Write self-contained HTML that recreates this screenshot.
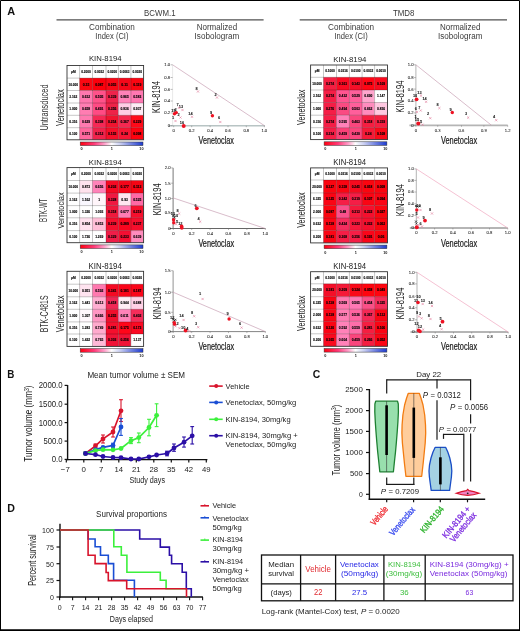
<!DOCTYPE html>
<html><head><meta charset="utf-8"><style>
html,body{margin:0;padding:0;background:#fff;}
body{width:520px;height:631px;overflow:hidden;}
svg{display:block;font-family:"Liberation Sans", sans-serif;will-change:transform;}
</style></head><body>
<svg width="520" height="631" viewBox="0 0 520 631">
<rect x="0" y="0" width="520" height="631" fill="#fff"/>
<path d="M0.5,0.5 H519.5 V630 H0.5 Z" stroke="#000" stroke-width="1" fill="none"/>
<line x1="0.00" y1="630.30" x2="520.00" y2="630.30" stroke="#000" stroke-width="1.4"/>
<text x="7.20" y="15.00" font-size="11.00" fill="#111" font-weight="bold" textLength="7.90" lengthAdjust="spacingAndGlyphs">A</text>
<text x="144.10" y="15.90" font-size="8.41" fill="#3a3a3a" textLength="31.40" lengthAdjust="spacingAndGlyphs">BCWM.1</text>
<text x="392.90" y="15.90" font-size="8.41" fill="#3a3a3a" textLength="21.50" lengthAdjust="spacingAndGlyphs">TMD8</text>
<line x1="56.50" y1="19.90" x2="263.60" y2="19.90" stroke="#505050" stroke-width="1.3"/>
<line x1="299.70" y1="19.90" x2="507.00" y2="19.90" stroke="#505050" stroke-width="1.3"/>
<text x="89.00" y="29.50" font-size="8.55" fill="#3a3a3a" textLength="45.80" lengthAdjust="spacingAndGlyphs">Combination</text>
<text x="95.35" y="39.00" font-size="8.50" fill="#3a3a3a" textLength="33.10" lengthAdjust="spacingAndGlyphs">Index (CI)</text>
<text x="196.70" y="29.50" font-size="8.55" fill="#3a3a3a" textLength="40.40" lengthAdjust="spacingAndGlyphs">Normalized</text>
<text x="194.60" y="39.00" font-size="8.50" fill="#3a3a3a" textLength="44.60" lengthAdjust="spacingAndGlyphs">Isobologram</text>
<text x="328.10" y="29.50" font-size="8.55" fill="#3a3a3a" textLength="45.90" lengthAdjust="spacingAndGlyphs">Combination</text>
<text x="334.40" y="39.00" font-size="8.50" fill="#3a3a3a" textLength="33.30" lengthAdjust="spacingAndGlyphs">Index (CI)</text>
<text x="440.10" y="29.50" font-size="8.55" fill="#3a3a3a" textLength="40.40" lengthAdjust="spacingAndGlyphs">Normalized</text>
<text x="438.10" y="39.00" font-size="8.50" fill="#3a3a3a" textLength="44.40" lengthAdjust="spacingAndGlyphs">Isobologram</text>
<text x="47.80" y="130.60" font-size="10.43" fill="#333" textLength="46.10" lengthAdjust="spacingAndGlyphs" transform="rotate(-90 47.80 130.60)">Untransduced</text>
<text x="47.50" y="221.90" font-size="10.29" fill="#333" textLength="23.30" lengthAdjust="spacingAndGlyphs" transform="rotate(-90 47.50 221.90)">BTK-WT</text>
<text x="47.80" y="332.20" font-size="10.58" fill="#333" textLength="36.70" lengthAdjust="spacingAndGlyphs" transform="rotate(-90 47.80 332.20)">BTK-C481S</text>
<defs><linearGradient id="cb" x1="0" x2="1" y1="0" y2="0"><stop offset="0" stop-color="#ff0010"/><stop offset="0.22" stop-color="#ff3a78"/><stop offset="0.38" stop-color="#ff9cc8"/><stop offset="0.5" stop-color="#ffffff"/><stop offset="0.64" stop-color="#c8cdf2"/><stop offset="0.82" stop-color="#6f80e0"/><stop offset="1" stop-color="#1c3ad0"/></linearGradient></defs>
<rect x="67.00" y="65.50" width="76.60" height="74.30" fill="#fff"/>
<rect x="79.60" y="78.10" width="12.90" height="12.40" fill="#fa0812"/>
<rect x="92.50" y="78.10" width="13.50" height="12.40" fill="#fc000c"/>
<rect x="106.00" y="78.10" width="12.40" height="12.40" fill="#f80816"/>
<rect x="118.40" y="78.10" width="12.50" height="12.40" fill="#f5081a"/>
<rect x="130.90" y="78.10" width="12.70" height="12.40" fill="#fc0612"/>
<rect x="79.60" y="90.50" width="12.90" height="12.50" fill="#ff78af"/>
<rect x="92.50" y="90.50" width="13.50" height="12.50" fill="#ff528a"/>
<rect x="106.00" y="90.50" width="12.40" height="12.50" fill="#ee234b"/>
<rect x="118.40" y="90.50" width="12.50" height="12.50" fill="#ff82b9"/>
<rect x="130.90" y="90.50" width="12.70" height="12.50" fill="#ff78b2"/>
<rect x="79.60" y="103.00" width="12.90" height="12.30" fill="#ff7db2"/>
<rect x="92.50" y="103.00" width="13.50" height="12.30" fill="#ff4b84"/>
<rect x="106.00" y="103.00" width="12.40" height="12.30" fill="#ee2348"/>
<rect x="118.40" y="103.00" width="12.50" height="12.30" fill="#ffcde6"/>
<rect x="130.90" y="103.00" width="12.70" height="12.30" fill="#ffebf5"/>
<rect x="79.60" y="115.30" width="12.90" height="12.40" fill="#ff7ab0"/>
<rect x="92.50" y="115.30" width="13.50" height="12.40" fill="#f52855"/>
<rect x="106.00" y="115.30" width="12.40" height="12.40" fill="#f0142f"/>
<rect x="118.40" y="115.30" width="12.50" height="12.40" fill="#f52850"/>
<rect x="130.90" y="115.30" width="12.70" height="12.40" fill="#ff0a19"/>
<rect x="79.60" y="127.70" width="12.90" height="12.10" fill="#ff689e"/>
<rect x="92.50" y="127.70" width="13.50" height="12.10" fill="#f0234b"/>
<rect x="106.00" y="127.70" width="12.40" height="12.10" fill="#f50f28"/>
<rect x="118.40" y="127.70" width="12.50" height="12.10" fill="#f51634"/>
<rect x="130.90" y="127.70" width="12.70" height="12.10" fill="#ff020f"/>
<line x1="79.60" y1="65.50" x2="79.60" y2="139.80" stroke="#000" stroke-width="0.8" stroke-opacity="0.28"/>
<line x1="92.50" y1="65.50" x2="92.50" y2="139.80" stroke="#000" stroke-width="0.8" stroke-opacity="0.28"/>
<line x1="106.00" y1="65.50" x2="106.00" y2="139.80" stroke="#000" stroke-width="0.8" stroke-opacity="0.28"/>
<line x1="118.40" y1="65.50" x2="118.40" y2="139.80" stroke="#000" stroke-width="0.8" stroke-opacity="0.28"/>
<line x1="130.90" y1="65.50" x2="130.90" y2="139.80" stroke="#000" stroke-width="0.8" stroke-opacity="0.28"/>
<line x1="67.00" y1="78.10" x2="143.60" y2="78.10" stroke="#000" stroke-width="0.8" stroke-opacity="0.28"/>
<line x1="67.00" y1="90.50" x2="143.60" y2="90.50" stroke="#000" stroke-width="0.8" stroke-opacity="0.28"/>
<line x1="67.00" y1="103.00" x2="143.60" y2="103.00" stroke="#000" stroke-width="0.8" stroke-opacity="0.28"/>
<line x1="67.00" y1="115.30" x2="143.60" y2="115.30" stroke="#000" stroke-width="0.8" stroke-opacity="0.28"/>
<line x1="67.00" y1="127.70" x2="143.60" y2="127.70" stroke="#000" stroke-width="0.8" stroke-opacity="0.28"/>
<rect x="67.00" y="65.50" width="76.60" height="74.30" fill="none" stroke="#333" stroke-width="0.9"/>
<text x="71.00" y="73.00" font-size="3.40" fill="#000" font-weight="bold" textLength="4.60" lengthAdjust="spacingAndGlyphs" stroke="#000" stroke-width="0.12">µM</text>
<text x="81.25" y="73.00" font-size="3.40" fill="#000" font-weight="bold" textLength="9.60" lengthAdjust="spacingAndGlyphs" stroke="#000" stroke-width="0.12">0.2000</text>
<text x="94.45" y="73.00" font-size="3.40" fill="#000" font-weight="bold" textLength="9.60" lengthAdjust="spacingAndGlyphs" stroke="#000" stroke-width="0.12">0.0032</text>
<text x="107.40" y="73.00" font-size="3.40" fill="#000" font-weight="bold" textLength="9.60" lengthAdjust="spacingAndGlyphs" stroke="#000" stroke-width="0.12">0.0200</text>
<text x="119.85" y="73.00" font-size="3.40" fill="#000" font-weight="bold" textLength="9.60" lengthAdjust="spacingAndGlyphs" stroke="#000" stroke-width="0.12">0.0063</text>
<text x="132.45" y="73.00" font-size="3.40" fill="#000" font-weight="bold" textLength="9.60" lengthAdjust="spacingAndGlyphs" stroke="#000" stroke-width="0.12">0.0020</text>
<text x="68.55" y="85.50" font-size="3.40" fill="#000" font-weight="bold" textLength="9.50" lengthAdjust="spacingAndGlyphs" stroke="#000" stroke-width="0.12">10.000</text>
<text x="82.75" y="85.50" font-size="3.40" fill="#000" font-weight="bold" textLength="6.60" lengthAdjust="spacingAndGlyphs" stroke="#000" stroke-width="0.12">0.15</text>
<text x="95.15" y="85.50" font-size="3.40" fill="#000" font-weight="bold" textLength="8.20" lengthAdjust="spacingAndGlyphs" stroke="#000" stroke-width="0.12">0.087</text>
<text x="108.10" y="85.50" font-size="3.40" fill="#000" font-weight="bold" textLength="8.20" lengthAdjust="spacingAndGlyphs" stroke="#000" stroke-width="0.12">0.055</text>
<text x="121.35" y="85.50" font-size="3.40" fill="#000" font-weight="bold" textLength="6.60" lengthAdjust="spacingAndGlyphs" stroke="#000" stroke-width="0.12">0.11</text>
<text x="133.15" y="85.50" font-size="3.40" fill="#000" font-weight="bold" textLength="8.20" lengthAdjust="spacingAndGlyphs" stroke="#000" stroke-width="0.12">0.119</text>
<text x="69.33" y="97.95" font-size="3.40" fill="#000" font-weight="bold" textLength="7.95" lengthAdjust="spacingAndGlyphs" stroke="#000" stroke-width="0.12">3.162</text>
<text x="81.95" y="97.95" font-size="3.40" fill="#000" font-weight="bold" textLength="8.20" lengthAdjust="spacingAndGlyphs" stroke="#000" stroke-width="0.12">0.612</text>
<text x="95.15" y="97.95" font-size="3.40" fill="#000" font-weight="bold" textLength="8.20" lengthAdjust="spacingAndGlyphs" stroke="#000" stroke-width="0.12">0.505</text>
<text x="108.10" y="97.95" font-size="3.40" fill="#000" font-weight="bold" textLength="8.20" lengthAdjust="spacingAndGlyphs" stroke="#000" stroke-width="0.12">0.339</text>
<text x="120.55" y="97.95" font-size="3.40" fill="#000" font-weight="bold" textLength="8.20" lengthAdjust="spacingAndGlyphs" stroke="#000" stroke-width="0.12">0.865</text>
<text x="133.15" y="97.95" font-size="3.40" fill="#000" font-weight="bold" textLength="8.20" lengthAdjust="spacingAndGlyphs" stroke="#000" stroke-width="0.12">0.583</text>
<text x="69.33" y="110.35" font-size="3.40" fill="#000" font-weight="bold" textLength="7.95" lengthAdjust="spacingAndGlyphs" stroke="#000" stroke-width="0.12">1.000</text>
<text x="81.95" y="110.35" font-size="3.40" fill="#000" font-weight="bold" textLength="8.20" lengthAdjust="spacingAndGlyphs" stroke="#000" stroke-width="0.12">0.658</text>
<text x="95.15" y="110.35" font-size="3.40" fill="#000" font-weight="bold" textLength="8.20" lengthAdjust="spacingAndGlyphs" stroke="#000" stroke-width="0.12">0.491</text>
<text x="108.10" y="110.35" font-size="3.40" fill="#000" font-weight="bold" textLength="8.20" lengthAdjust="spacingAndGlyphs" stroke="#000" stroke-width="0.12">0.356</text>
<text x="120.55" y="110.35" font-size="3.40" fill="#000" font-weight="bold" textLength="8.20" lengthAdjust="spacingAndGlyphs" stroke="#000" stroke-width="0.12">0.836</text>
<text x="133.15" y="110.35" font-size="3.40" fill="#000" font-weight="bold" textLength="8.20" lengthAdjust="spacingAndGlyphs" stroke="#000" stroke-width="0.12">0.937</text>
<text x="69.33" y="122.70" font-size="3.40" fill="#000" font-weight="bold" textLength="7.95" lengthAdjust="spacingAndGlyphs" stroke="#000" stroke-width="0.12">0.316</text>
<text x="81.95" y="122.70" font-size="3.40" fill="#000" font-weight="bold" textLength="8.20" lengthAdjust="spacingAndGlyphs" stroke="#000" stroke-width="0.12">0.629</text>
<text x="95.15" y="122.70" font-size="3.40" fill="#000" font-weight="bold" textLength="8.20" lengthAdjust="spacingAndGlyphs" stroke="#000" stroke-width="0.12">0.398</text>
<text x="108.10" y="122.70" font-size="3.40" fill="#000" font-weight="bold" textLength="8.20" lengthAdjust="spacingAndGlyphs" stroke="#000" stroke-width="0.12">0.254</text>
<text x="120.55" y="122.70" font-size="3.40" fill="#000" font-weight="bold" textLength="8.20" lengthAdjust="spacingAndGlyphs" stroke="#000" stroke-width="0.12">0.367</text>
<text x="133.15" y="122.70" font-size="3.40" fill="#000" font-weight="bold" textLength="8.20" lengthAdjust="spacingAndGlyphs" stroke="#000" stroke-width="0.12">0.229</text>
<text x="69.33" y="134.95" font-size="3.40" fill="#000" font-weight="bold" textLength="7.95" lengthAdjust="spacingAndGlyphs" stroke="#000" stroke-width="0.12">0.100</text>
<text x="81.95" y="134.95" font-size="3.40" fill="#000" font-weight="bold" textLength="8.20" lengthAdjust="spacingAndGlyphs" stroke="#000" stroke-width="0.12">0.571</text>
<text x="95.15" y="134.95" font-size="3.40" fill="#000" font-weight="bold" textLength="8.20" lengthAdjust="spacingAndGlyphs" stroke="#000" stroke-width="0.12">0.312</text>
<text x="108.10" y="134.95" font-size="3.40" fill="#000" font-weight="bold" textLength="8.20" lengthAdjust="spacingAndGlyphs" stroke="#000" stroke-width="0.12">0.155</text>
<text x="121.35" y="134.95" font-size="3.40" fill="#000" font-weight="bold" textLength="6.60" lengthAdjust="spacingAndGlyphs" stroke="#000" stroke-width="0.12">0.24</text>
<text x="133.15" y="134.95" font-size="3.40" fill="#000" font-weight="bold" textLength="8.20" lengthAdjust="spacingAndGlyphs" stroke="#000" stroke-width="0.12">0.098</text>
<rect x="80.20" y="142.00" width="62.80" height="3.60" fill="url(#cb)" stroke="#333" stroke-width="0.5"/>
<text x="81.46" y="150.40" font-size="3.80" fill="#111" text-anchor="middle" font-weight="bold">0</text>
<text x="111.91" y="150.40" font-size="3.80" fill="#111" text-anchor="middle" font-weight="bold">1</text>
<text x="141.43" y="150.40" font-size="3.80" fill="#111" text-anchor="middle" font-weight="bold">10</text>
<text x="88.90" y="61.40" font-size="7.68" fill="#222" textLength="32.70" lengthAdjust="spacingAndGlyphs">KIN-8194</text>
<text x="64.20" y="125.90" font-size="11.30" fill="#222" textLength="36.70" lengthAdjust="spacingAndGlyphs" transform="rotate(-90 64.20 125.90)">Venetoclax</text>
<rect x="67.00" y="167.60" width="76.60" height="75.10" fill="#fff"/>
<rect x="79.60" y="180.50" width="12.90" height="12.60" fill="#ffe2ee"/>
<rect x="92.50" y="180.50" width="13.50" height="12.60" fill="#ff82b9"/>
<rect x="106.00" y="180.50" width="12.40" height="12.60" fill="#f50a23"/>
<rect x="118.40" y="180.50" width="12.50" height="12.60" fill="#f50519"/>
<rect x="130.90" y="180.50" width="12.70" height="12.60" fill="#f50514"/>
<rect x="79.60" y="193.10" width="12.90" height="12.50" fill="#faf8ff"/>
<rect x="92.50" y="193.10" width="13.50" height="12.50" fill="#fff5fa"/>
<rect x="106.00" y="193.10" width="12.40" height="12.50" fill="#f01941"/>
<rect x="118.40" y="193.10" width="12.50" height="12.50" fill="#ffe6f0"/>
<rect x="130.90" y="193.10" width="12.70" height="12.50" fill="#ff69a5"/>
<rect x="79.60" y="205.60" width="12.90" height="12.20" fill="#ffffff"/>
<rect x="92.50" y="205.60" width="13.50" height="12.20" fill="#ffffff"/>
<rect x="106.00" y="205.60" width="12.40" height="12.20" fill="#f0193c"/>
<rect x="118.40" y="205.60" width="12.50" height="12.20" fill="#ff7db4"/>
<rect x="130.90" y="205.60" width="12.70" height="12.20" fill="#f50f2d"/>
<rect x="79.60" y="217.80" width="12.90" height="12.80" fill="#ffe1ee"/>
<rect x="92.50" y="217.80" width="13.50" height="12.80" fill="#ffbed7"/>
<rect x="106.00" y="217.80" width="12.40" height="12.80" fill="#f50f2d"/>
<rect x="118.40" y="217.80" width="12.50" height="12.80" fill="#fa051e"/>
<rect x="130.90" y="217.80" width="12.70" height="12.80" fill="#f50f2d"/>
<rect x="79.60" y="230.60" width="12.90" height="12.10" fill="#ffffff"/>
<rect x="92.50" y="230.60" width="13.50" height="12.10" fill="#ffffff"/>
<rect x="106.00" y="230.60" width="12.40" height="12.10" fill="#f01e48"/>
<rect x="118.40" y="230.60" width="12.50" height="12.10" fill="#f50f32"/>
<rect x="130.90" y="230.60" width="12.70" height="12.10" fill="#ff8cbe"/>
<line x1="79.60" y1="167.60" x2="79.60" y2="242.70" stroke="#000" stroke-width="0.8" stroke-opacity="0.28"/>
<line x1="92.50" y1="167.60" x2="92.50" y2="242.70" stroke="#000" stroke-width="0.8" stroke-opacity="0.28"/>
<line x1="106.00" y1="167.60" x2="106.00" y2="242.70" stroke="#000" stroke-width="0.8" stroke-opacity="0.28"/>
<line x1="118.40" y1="167.60" x2="118.40" y2="242.70" stroke="#000" stroke-width="0.8" stroke-opacity="0.28"/>
<line x1="130.90" y1="167.60" x2="130.90" y2="242.70" stroke="#000" stroke-width="0.8" stroke-opacity="0.28"/>
<line x1="67.00" y1="180.50" x2="143.60" y2="180.50" stroke="#000" stroke-width="0.8" stroke-opacity="0.28"/>
<line x1="67.00" y1="193.10" x2="143.60" y2="193.10" stroke="#000" stroke-width="0.8" stroke-opacity="0.28"/>
<line x1="67.00" y1="205.60" x2="143.60" y2="205.60" stroke="#000" stroke-width="0.8" stroke-opacity="0.28"/>
<line x1="67.00" y1="217.80" x2="143.60" y2="217.80" stroke="#000" stroke-width="0.8" stroke-opacity="0.28"/>
<line x1="67.00" y1="230.60" x2="143.60" y2="230.60" stroke="#000" stroke-width="0.8" stroke-opacity="0.28"/>
<rect x="67.00" y="167.60" width="76.60" height="75.10" fill="none" stroke="#333" stroke-width="0.9"/>
<text x="71.00" y="175.25" font-size="3.40" fill="#000" font-weight="bold" textLength="4.60" lengthAdjust="spacingAndGlyphs" stroke="#000" stroke-width="0.12">µM</text>
<text x="81.25" y="175.25" font-size="3.40" fill="#000" font-weight="bold" textLength="9.60" lengthAdjust="spacingAndGlyphs" stroke="#000" stroke-width="0.12">0.2000</text>
<text x="94.45" y="175.25" font-size="3.40" fill="#000" font-weight="bold" textLength="9.60" lengthAdjust="spacingAndGlyphs" stroke="#000" stroke-width="0.12">0.0032</text>
<text x="107.40" y="175.25" font-size="3.40" fill="#000" font-weight="bold" textLength="9.60" lengthAdjust="spacingAndGlyphs" stroke="#000" stroke-width="0.12">0.0200</text>
<text x="119.85" y="175.25" font-size="3.40" fill="#000" font-weight="bold" textLength="9.60" lengthAdjust="spacingAndGlyphs" stroke="#000" stroke-width="0.12">0.0063</text>
<text x="132.45" y="175.25" font-size="3.40" fill="#000" font-weight="bold" textLength="9.60" lengthAdjust="spacingAndGlyphs" stroke="#000" stroke-width="0.12">0.0020</text>
<text x="68.55" y="188.00" font-size="3.40" fill="#000" font-weight="bold" textLength="9.50" lengthAdjust="spacingAndGlyphs" stroke="#000" stroke-width="0.12">10.000</text>
<text x="81.95" y="188.00" font-size="3.40" fill="#000" font-weight="bold" textLength="8.20" lengthAdjust="spacingAndGlyphs" stroke="#000" stroke-width="0.12">0.873</text>
<text x="95.15" y="188.00" font-size="3.40" fill="#000" font-weight="bold" textLength="8.20" lengthAdjust="spacingAndGlyphs" stroke="#000" stroke-width="0.12">0.656</text>
<text x="108.10" y="188.00" font-size="3.40" fill="#000" font-weight="bold" textLength="8.20" lengthAdjust="spacingAndGlyphs" stroke="#000" stroke-width="0.12">0.202</text>
<text x="120.55" y="188.00" font-size="3.40" fill="#000" font-weight="bold" textLength="8.20" lengthAdjust="spacingAndGlyphs" stroke="#000" stroke-width="0.12">0.177</text>
<text x="133.15" y="188.00" font-size="3.40" fill="#000" font-weight="bold" textLength="8.20" lengthAdjust="spacingAndGlyphs" stroke="#000" stroke-width="0.12">0.113</text>
<text x="69.33" y="200.55" font-size="3.40" fill="#000" font-weight="bold" textLength="7.95" lengthAdjust="spacingAndGlyphs" stroke="#000" stroke-width="0.12">3.162</text>
<text x="81.95" y="200.55" font-size="3.40" fill="#000" font-weight="bold" textLength="8.20" lengthAdjust="spacingAndGlyphs" stroke="#000" stroke-width="0.12">1.162</text>
<text x="98.35" y="200.55" font-size="3.40" fill="#000" font-weight="bold" textLength="1.80" lengthAdjust="spacingAndGlyphs" stroke="#000" stroke-width="0.12">1</text>
<text x="108.10" y="200.55" font-size="3.40" fill="#000" font-weight="bold" textLength="8.20" lengthAdjust="spacingAndGlyphs" stroke="#000" stroke-width="0.12">0.328</text>
<text x="121.35" y="200.55" font-size="3.40" fill="#000" font-weight="bold" textLength="6.60" lengthAdjust="spacingAndGlyphs" stroke="#000" stroke-width="0.12">0.93</text>
<text x="133.15" y="200.55" font-size="3.40" fill="#000" font-weight="bold" textLength="8.20" lengthAdjust="spacingAndGlyphs" stroke="#000" stroke-width="0.12">0.525</text>
<text x="69.33" y="212.90" font-size="3.40" fill="#000" font-weight="bold" textLength="7.95" lengthAdjust="spacingAndGlyphs" stroke="#000" stroke-width="0.12">1.000</text>
<text x="81.95" y="212.90" font-size="3.40" fill="#000" font-weight="bold" textLength="8.20" lengthAdjust="spacingAndGlyphs" stroke="#000" stroke-width="0.12">1.326</text>
<text x="95.15" y="212.90" font-size="3.40" fill="#000" font-weight="bold" textLength="8.20" lengthAdjust="spacingAndGlyphs" stroke="#000" stroke-width="0.12">1.093</text>
<text x="108.10" y="212.90" font-size="3.40" fill="#000" font-weight="bold" textLength="8.20" lengthAdjust="spacingAndGlyphs" stroke="#000" stroke-width="0.12">0.318</text>
<text x="120.55" y="212.90" font-size="3.40" fill="#000" font-weight="bold" textLength="8.20" lengthAdjust="spacingAndGlyphs" stroke="#000" stroke-width="0.12">0.677</text>
<text x="133.15" y="212.90" font-size="3.40" fill="#000" font-weight="bold" textLength="8.20" lengthAdjust="spacingAndGlyphs" stroke="#000" stroke-width="0.12">0.219</text>
<text x="69.33" y="225.40" font-size="3.40" fill="#000" font-weight="bold" textLength="7.95" lengthAdjust="spacingAndGlyphs" stroke="#000" stroke-width="0.12">0.316</text>
<text x="81.95" y="225.40" font-size="3.40" fill="#000" font-weight="bold" textLength="8.20" lengthAdjust="spacingAndGlyphs" stroke="#000" stroke-width="0.12">0.854</text>
<text x="95.15" y="225.40" font-size="3.40" fill="#000" font-weight="bold" textLength="8.20" lengthAdjust="spacingAndGlyphs" stroke="#000" stroke-width="0.12">0.853</text>
<text x="108.10" y="225.40" font-size="3.40" fill="#000" font-weight="bold" textLength="8.20" lengthAdjust="spacingAndGlyphs" stroke="#000" stroke-width="0.12">0.239</text>
<text x="120.55" y="225.40" font-size="3.40" fill="#000" font-weight="bold" textLength="8.20" lengthAdjust="spacingAndGlyphs" stroke="#000" stroke-width="0.12">0.289</text>
<text x="133.15" y="225.40" font-size="3.40" fill="#000" font-weight="bold" textLength="8.20" lengthAdjust="spacingAndGlyphs" stroke="#000" stroke-width="0.12">0.237</text>
<text x="69.33" y="237.85" font-size="3.40" fill="#000" font-weight="bold" textLength="7.95" lengthAdjust="spacingAndGlyphs" stroke="#000" stroke-width="0.12">0.100</text>
<text x="81.95" y="237.85" font-size="3.40" fill="#000" font-weight="bold" textLength="8.20" lengthAdjust="spacingAndGlyphs" stroke="#000" stroke-width="0.12">1.726</text>
<text x="95.15" y="237.85" font-size="3.40" fill="#000" font-weight="bold" textLength="8.20" lengthAdjust="spacingAndGlyphs" stroke="#000" stroke-width="0.12">1.269</text>
<text x="108.10" y="237.85" font-size="3.40" fill="#000" font-weight="bold" textLength="8.20" lengthAdjust="spacingAndGlyphs" stroke="#000" stroke-width="0.12">0.329</text>
<text x="120.55" y="237.85" font-size="3.40" fill="#000" font-weight="bold" textLength="8.20" lengthAdjust="spacingAndGlyphs" stroke="#000" stroke-width="0.12">0.233</text>
<text x="133.15" y="237.85" font-size="3.40" fill="#000" font-weight="bold" textLength="8.20" lengthAdjust="spacingAndGlyphs" stroke="#000" stroke-width="0.12">0.639</text>
<rect x="80.20" y="244.90" width="62.80" height="3.60" fill="url(#cb)" stroke="#333" stroke-width="0.5"/>
<text x="81.46" y="253.30" font-size="3.80" fill="#111" text-anchor="middle" font-weight="bold">0</text>
<text x="111.91" y="253.30" font-size="3.80" fill="#111" text-anchor="middle" font-weight="bold">1</text>
<text x="141.43" y="253.30" font-size="3.80" fill="#111" text-anchor="middle" font-weight="bold">10</text>
<text x="88.80" y="164.70" font-size="7.97" fill="#222" textLength="33.00" lengthAdjust="spacingAndGlyphs">KIN-8194</text>
<text x="63.60" y="228.60" font-size="9.71" fill="#222" textLength="36.20" lengthAdjust="spacingAndGlyphs" transform="rotate(-90 63.60 228.60)">Venetoclax</text>
<rect x="67.00" y="271.30" width="76.60" height="75.10" fill="#fff"/>
<rect x="79.60" y="284.20" width="12.90" height="12.60" fill="#ffe4f0"/>
<rect x="92.50" y="284.20" width="13.50" height="12.60" fill="#ff78af"/>
<rect x="106.00" y="284.20" width="12.40" height="12.60" fill="#f50a23"/>
<rect x="118.40" y="284.20" width="12.50" height="12.60" fill="#fa0519"/>
<rect x="130.90" y="284.20" width="12.70" height="12.60" fill="#fa0519"/>
<rect x="79.60" y="296.80" width="12.90" height="12.50" fill="#ffffff"/>
<rect x="92.50" y="296.80" width="13.50" height="12.50" fill="#ffafd2"/>
<rect x="106.00" y="296.80" width="12.40" height="12.50" fill="#f02855"/>
<rect x="118.40" y="296.80" width="12.50" height="12.50" fill="#ffeef5"/>
<rect x="130.90" y="296.80" width="12.70" height="12.50" fill="#ffd2e6"/>
<rect x="79.60" y="309.30" width="12.90" height="12.60" fill="#fff8fc"/>
<rect x="92.50" y="309.30" width="13.50" height="12.60" fill="#ff96c3"/>
<rect x="106.00" y="309.30" width="12.40" height="12.60" fill="#f00f2d"/>
<rect x="118.40" y="309.30" width="12.50" height="12.60" fill="#ff82b9"/>
<rect x="130.90" y="309.30" width="12.70" height="12.60" fill="#f52d5a"/>
<rect x="79.60" y="321.90" width="12.90" height="12.10" fill="#ffffff"/>
<rect x="92.50" y="321.90" width="13.50" height="12.10" fill="#ffaacd"/>
<rect x="106.00" y="321.90" width="12.40" height="12.10" fill="#f50f2d"/>
<rect x="118.40" y="321.90" width="12.50" height="12.10" fill="#ff0519"/>
<rect x="130.90" y="321.90" width="12.70" height="12.10" fill="#fa0a23"/>
<rect x="79.60" y="334.00" width="12.90" height="12.40" fill="#ffffff"/>
<rect x="92.50" y="334.00" width="13.50" height="12.40" fill="#ffb9d7"/>
<rect x="106.00" y="334.00" width="12.40" height="12.40" fill="#f01437"/>
<rect x="118.40" y="334.00" width="12.50" height="12.40" fill="#f01437"/>
<rect x="130.90" y="334.00" width="12.70" height="12.40" fill="#ffffff"/>
<line x1="79.60" y1="271.30" x2="79.60" y2="346.40" stroke="#000" stroke-width="0.8" stroke-opacity="0.28"/>
<line x1="92.50" y1="271.30" x2="92.50" y2="346.40" stroke="#000" stroke-width="0.8" stroke-opacity="0.28"/>
<line x1="106.00" y1="271.30" x2="106.00" y2="346.40" stroke="#000" stroke-width="0.8" stroke-opacity="0.28"/>
<line x1="118.40" y1="271.30" x2="118.40" y2="346.40" stroke="#000" stroke-width="0.8" stroke-opacity="0.28"/>
<line x1="130.90" y1="271.30" x2="130.90" y2="346.40" stroke="#000" stroke-width="0.8" stroke-opacity="0.28"/>
<line x1="67.00" y1="284.20" x2="143.60" y2="284.20" stroke="#000" stroke-width="0.8" stroke-opacity="0.28"/>
<line x1="67.00" y1="296.80" x2="143.60" y2="296.80" stroke="#000" stroke-width="0.8" stroke-opacity="0.28"/>
<line x1="67.00" y1="309.30" x2="143.60" y2="309.30" stroke="#000" stroke-width="0.8" stroke-opacity="0.28"/>
<line x1="67.00" y1="321.90" x2="143.60" y2="321.90" stroke="#000" stroke-width="0.8" stroke-opacity="0.28"/>
<line x1="67.00" y1="334.00" x2="143.60" y2="334.00" stroke="#000" stroke-width="0.8" stroke-opacity="0.28"/>
<rect x="67.00" y="271.30" width="76.60" height="75.10" fill="none" stroke="#333" stroke-width="0.9"/>
<text x="71.00" y="278.95" font-size="3.40" fill="#000" font-weight="bold" textLength="4.60" lengthAdjust="spacingAndGlyphs" stroke="#000" stroke-width="0.12">µM</text>
<text x="81.25" y="278.95" font-size="3.40" fill="#000" font-weight="bold" textLength="9.60" lengthAdjust="spacingAndGlyphs" stroke="#000" stroke-width="0.12">0.2000</text>
<text x="94.45" y="278.95" font-size="3.40" fill="#000" font-weight="bold" textLength="9.60" lengthAdjust="spacingAndGlyphs" stroke="#000" stroke-width="0.12">0.0032</text>
<text x="107.40" y="278.95" font-size="3.40" fill="#000" font-weight="bold" textLength="9.60" lengthAdjust="spacingAndGlyphs" stroke="#000" stroke-width="0.12">0.0200</text>
<text x="119.85" y="278.95" font-size="3.40" fill="#000" font-weight="bold" textLength="9.60" lengthAdjust="spacingAndGlyphs" stroke="#000" stroke-width="0.12">0.0063</text>
<text x="132.45" y="278.95" font-size="3.40" fill="#000" font-weight="bold" textLength="9.60" lengthAdjust="spacingAndGlyphs" stroke="#000" stroke-width="0.12">0.0020</text>
<text x="68.55" y="291.70" font-size="3.40" fill="#000" font-weight="bold" textLength="9.50" lengthAdjust="spacingAndGlyphs" stroke="#000" stroke-width="0.12">10.000</text>
<text x="81.95" y="291.70" font-size="3.40" fill="#000" font-weight="bold" textLength="8.20" lengthAdjust="spacingAndGlyphs" stroke="#000" stroke-width="0.12">0.951</text>
<text x="95.15" y="291.70" font-size="3.40" fill="#000" font-weight="bold" textLength="8.20" lengthAdjust="spacingAndGlyphs" stroke="#000" stroke-width="0.12">0.592</text>
<text x="108.10" y="291.70" font-size="3.40" fill="#000" font-weight="bold" textLength="8.20" lengthAdjust="spacingAndGlyphs" stroke="#000" stroke-width="0.12">0.341</text>
<text x="120.55" y="291.70" font-size="3.40" fill="#000" font-weight="bold" textLength="8.20" lengthAdjust="spacingAndGlyphs" stroke="#000" stroke-width="0.12">0.181</text>
<text x="133.15" y="291.70" font-size="3.40" fill="#000" font-weight="bold" textLength="8.20" lengthAdjust="spacingAndGlyphs" stroke="#000" stroke-width="0.12">0.187</text>
<text x="69.33" y="304.25" font-size="3.40" fill="#000" font-weight="bold" textLength="7.95" lengthAdjust="spacingAndGlyphs" stroke="#000" stroke-width="0.12">3.162</text>
<text x="81.95" y="304.25" font-size="3.40" fill="#000" font-weight="bold" textLength="8.20" lengthAdjust="spacingAndGlyphs" stroke="#000" stroke-width="0.12">1.441</text>
<text x="95.15" y="304.25" font-size="3.40" fill="#000" font-weight="bold" textLength="8.20" lengthAdjust="spacingAndGlyphs" stroke="#000" stroke-width="0.12">0.613</text>
<text x="108.10" y="304.25" font-size="3.40" fill="#000" font-weight="bold" textLength="8.20" lengthAdjust="spacingAndGlyphs" stroke="#000" stroke-width="0.12">0.418</text>
<text x="120.55" y="304.25" font-size="3.40" fill="#000" font-weight="bold" textLength="8.20" lengthAdjust="spacingAndGlyphs" stroke="#000" stroke-width="0.12">0.944</text>
<text x="133.15" y="304.25" font-size="3.40" fill="#000" font-weight="bold" textLength="8.20" lengthAdjust="spacingAndGlyphs" stroke="#000" stroke-width="0.12">0.688</text>
<text x="69.33" y="316.80" font-size="3.40" fill="#000" font-weight="bold" textLength="7.95" lengthAdjust="spacingAndGlyphs" stroke="#000" stroke-width="0.12">1.000</text>
<text x="81.95" y="316.80" font-size="3.40" fill="#000" font-weight="bold" textLength="8.20" lengthAdjust="spacingAndGlyphs" stroke="#000" stroke-width="0.12">1.307</text>
<text x="95.15" y="316.80" font-size="3.40" fill="#000" font-weight="bold" textLength="8.20" lengthAdjust="spacingAndGlyphs" stroke="#000" stroke-width="0.12">0.666</text>
<text x="108.10" y="316.80" font-size="3.40" fill="#000" font-weight="bold" textLength="8.20" lengthAdjust="spacingAndGlyphs" stroke="#000" stroke-width="0.12">0.255</text>
<text x="120.55" y="316.80" font-size="3.40" fill="#000" font-weight="bold" textLength="8.20" lengthAdjust="spacingAndGlyphs" stroke="#000" stroke-width="0.12">0.611</text>
<text x="133.15" y="316.80" font-size="3.40" fill="#000" font-weight="bold" textLength="8.20" lengthAdjust="spacingAndGlyphs" stroke="#000" stroke-width="0.12">0.402</text>
<text x="69.33" y="329.15" font-size="3.40" fill="#000" font-weight="bold" textLength="7.95" lengthAdjust="spacingAndGlyphs" stroke="#000" stroke-width="0.12">0.316</text>
<text x="81.95" y="329.15" font-size="3.40" fill="#000" font-weight="bold" textLength="8.20" lengthAdjust="spacingAndGlyphs" stroke="#000" stroke-width="0.12">1.283</text>
<text x="95.15" y="329.15" font-size="3.40" fill="#000" font-weight="bold" textLength="8.20" lengthAdjust="spacingAndGlyphs" stroke="#000" stroke-width="0.12">0.749</text>
<text x="108.10" y="329.15" font-size="3.40" fill="#000" font-weight="bold" textLength="8.20" lengthAdjust="spacingAndGlyphs" stroke="#000" stroke-width="0.12">0.281</text>
<text x="120.55" y="329.15" font-size="3.40" fill="#000" font-weight="bold" textLength="8.20" lengthAdjust="spacingAndGlyphs" stroke="#000" stroke-width="0.12">0.175</text>
<text x="133.15" y="329.15" font-size="3.40" fill="#000" font-weight="bold" textLength="8.20" lengthAdjust="spacingAndGlyphs" stroke="#000" stroke-width="0.12">0.173</text>
<text x="69.33" y="341.40" font-size="3.40" fill="#000" font-weight="bold" textLength="7.95" lengthAdjust="spacingAndGlyphs" stroke="#000" stroke-width="0.12">0.100</text>
<text x="81.95" y="341.40" font-size="3.40" fill="#000" font-weight="bold" textLength="8.20" lengthAdjust="spacingAndGlyphs" stroke="#000" stroke-width="0.12">1.422</text>
<text x="95.15" y="341.40" font-size="3.40" fill="#000" font-weight="bold" textLength="8.20" lengthAdjust="spacingAndGlyphs" stroke="#000" stroke-width="0.12">0.765</text>
<text x="108.10" y="341.40" font-size="3.40" fill="#000" font-weight="bold" textLength="8.20" lengthAdjust="spacingAndGlyphs" stroke="#000" stroke-width="0.12">0.303</text>
<text x="120.55" y="341.40" font-size="3.40" fill="#000" font-weight="bold" textLength="8.20" lengthAdjust="spacingAndGlyphs" stroke="#000" stroke-width="0.12">0.256</text>
<text x="133.15" y="341.40" font-size="3.40" fill="#000" font-weight="bold" textLength="8.20" lengthAdjust="spacingAndGlyphs" stroke="#000" stroke-width="0.12">1.137</text>
<rect x="80.20" y="348.60" width="62.80" height="3.60" fill="url(#cb)" stroke="#333" stroke-width="0.5"/>
<text x="81.46" y="357.00" font-size="3.80" fill="#111" text-anchor="middle" font-weight="bold">0</text>
<text x="111.91" y="357.00" font-size="3.80" fill="#111" text-anchor="middle" font-weight="bold">1</text>
<text x="141.43" y="357.00" font-size="3.80" fill="#111" text-anchor="middle" font-weight="bold">10</text>
<text x="88.60" y="268.90" font-size="8.26" fill="#222" textLength="33.20" lengthAdjust="spacingAndGlyphs">KIN-8194</text>
<text x="64.10" y="332.20" font-size="10.87" fill="#222" textLength="36.70" lengthAdjust="spacingAndGlyphs" transform="rotate(-90 64.10 332.20)">Venetoclax</text>
<rect x="310.60" y="65.00" width="76.90" height="74.60" fill="#fff"/>
<rect x="323.50" y="77.30" width="13.00" height="12.70" fill="#f51e41"/>
<rect x="336.50" y="77.30" width="12.90" height="12.70" fill="#fa0a23"/>
<rect x="349.40" y="77.30" width="12.70" height="12.70" fill="#f50f28"/>
<rect x="362.10" y="77.30" width="12.50" height="12.70" fill="#ff0514"/>
<rect x="374.60" y="77.30" width="12.90" height="12.70" fill="#fa0a1e"/>
<rect x="323.50" y="90.00" width="13.00" height="12.50" fill="#f51e46"/>
<rect x="336.50" y="90.00" width="12.90" height="12.50" fill="#ff5591"/>
<rect x="349.40" y="90.00" width="12.70" height="12.50" fill="#ff5f9b"/>
<rect x="362.10" y="90.00" width="12.50" height="12.50" fill="#ffa5cd"/>
<rect x="374.60" y="90.00" width="12.90" height="12.50" fill="#ffffff"/>
<rect x="323.50" y="102.50" width="13.00" height="12.70" fill="#f51e46"/>
<rect x="336.50" y="102.50" width="12.90" height="12.70" fill="#fa4b82"/>
<rect x="349.40" y="102.50" width="12.70" height="12.70" fill="#ff5f9b"/>
<rect x="362.10" y="102.50" width="12.50" height="12.70" fill="#ff8cbe"/>
<rect x="374.60" y="102.50" width="12.90" height="12.70" fill="#ffc8e1"/>
<rect x="323.50" y="115.20" width="13.00" height="12.50" fill="#f51e46"/>
<rect x="336.50" y="115.20" width="12.90" height="12.50" fill="#ff82b9"/>
<rect x="349.40" y="115.20" width="12.70" height="12.50" fill="#fa467d"/>
<rect x="362.10" y="115.20" width="12.50" height="12.50" fill="#f51e41"/>
<rect x="374.60" y="115.20" width="12.90" height="12.50" fill="#f51e41"/>
<rect x="323.50" y="127.70" width="13.00" height="11.90" fill="#f51e46"/>
<rect x="336.50" y="127.70" width="12.90" height="11.90" fill="#fa4178"/>
<rect x="349.40" y="127.70" width="12.70" height="11.90" fill="#fa467d"/>
<rect x="362.10" y="127.70" width="12.50" height="11.90" fill="#f51937"/>
<rect x="374.60" y="127.70" width="12.90" height="11.90" fill="#fa0a19"/>
<line x1="323.50" y1="65.00" x2="323.50" y2="139.60" stroke="#000" stroke-width="0.8" stroke-opacity="0.28"/>
<line x1="336.50" y1="65.00" x2="336.50" y2="139.60" stroke="#000" stroke-width="0.8" stroke-opacity="0.28"/>
<line x1="349.40" y1="65.00" x2="349.40" y2="139.60" stroke="#000" stroke-width="0.8" stroke-opacity="0.28"/>
<line x1="362.10" y1="65.00" x2="362.10" y2="139.60" stroke="#000" stroke-width="0.8" stroke-opacity="0.28"/>
<line x1="374.60" y1="65.00" x2="374.60" y2="139.60" stroke="#000" stroke-width="0.8" stroke-opacity="0.28"/>
<line x1="310.60" y1="77.30" x2="387.50" y2="77.30" stroke="#000" stroke-width="0.8" stroke-opacity="0.28"/>
<line x1="310.60" y1="90.00" x2="387.50" y2="90.00" stroke="#000" stroke-width="0.8" stroke-opacity="0.28"/>
<line x1="310.60" y1="102.50" x2="387.50" y2="102.50" stroke="#000" stroke-width="0.8" stroke-opacity="0.28"/>
<line x1="310.60" y1="115.20" x2="387.50" y2="115.20" stroke="#000" stroke-width="0.8" stroke-opacity="0.28"/>
<line x1="310.60" y1="127.70" x2="387.50" y2="127.70" stroke="#000" stroke-width="0.8" stroke-opacity="0.28"/>
<rect x="310.60" y="65.00" width="76.90" height="74.60" fill="none" stroke="#333" stroke-width="0.9"/>
<text x="314.75" y="72.35" font-size="3.40" fill="#000" font-weight="bold" textLength="4.60" lengthAdjust="spacingAndGlyphs" stroke="#000" stroke-width="0.12">µM</text>
<text x="325.20" y="72.35" font-size="3.40" fill="#000" font-weight="bold" textLength="9.60" lengthAdjust="spacingAndGlyphs" stroke="#000" stroke-width="0.12">0.1000</text>
<text x="338.15" y="72.35" font-size="3.40" fill="#000" font-weight="bold" textLength="9.60" lengthAdjust="spacingAndGlyphs" stroke="#000" stroke-width="0.12">0.0316</text>
<text x="350.95" y="72.35" font-size="3.40" fill="#000" font-weight="bold" textLength="9.60" lengthAdjust="spacingAndGlyphs" stroke="#000" stroke-width="0.12">0.0100</text>
<text x="363.55" y="72.35" font-size="3.40" fill="#000" font-weight="bold" textLength="9.60" lengthAdjust="spacingAndGlyphs" stroke="#000" stroke-width="0.12">0.0032</text>
<text x="376.25" y="72.35" font-size="3.40" fill="#000" font-weight="bold" textLength="9.60" lengthAdjust="spacingAndGlyphs" stroke="#000" stroke-width="0.12">0.0010</text>
<text x="312.30" y="84.85" font-size="3.40" fill="#000" font-weight="bold" textLength="9.50" lengthAdjust="spacingAndGlyphs" stroke="#000" stroke-width="0.12">10.000</text>
<text x="325.90" y="84.85" font-size="3.40" fill="#000" font-weight="bold" textLength="8.20" lengthAdjust="spacingAndGlyphs" stroke="#000" stroke-width="0.12">0.274</text>
<text x="338.85" y="84.85" font-size="3.40" fill="#000" font-weight="bold" textLength="8.20" lengthAdjust="spacingAndGlyphs" stroke="#000" stroke-width="0.12">0.161</text>
<text x="351.65" y="84.85" font-size="3.40" fill="#000" font-weight="bold" textLength="8.20" lengthAdjust="spacingAndGlyphs" stroke="#000" stroke-width="0.12">0.143</text>
<text x="364.25" y="84.85" font-size="3.40" fill="#000" font-weight="bold" textLength="8.20" lengthAdjust="spacingAndGlyphs" stroke="#000" stroke-width="0.12">0.075</text>
<text x="376.95" y="84.85" font-size="3.40" fill="#000" font-weight="bold" textLength="8.20" lengthAdjust="spacingAndGlyphs" stroke="#000" stroke-width="0.12">0.109</text>
<text x="313.07" y="97.45" font-size="3.40" fill="#000" font-weight="bold" textLength="7.95" lengthAdjust="spacingAndGlyphs" stroke="#000" stroke-width="0.12">3.162</text>
<text x="325.90" y="97.45" font-size="3.40" fill="#000" font-weight="bold" textLength="8.20" lengthAdjust="spacingAndGlyphs" stroke="#000" stroke-width="0.12">0.274</text>
<text x="338.85" y="97.45" font-size="3.40" fill="#000" font-weight="bold" textLength="8.20" lengthAdjust="spacingAndGlyphs" stroke="#000" stroke-width="0.12">0.432</text>
<text x="351.65" y="97.45" font-size="3.40" fill="#000" font-weight="bold" textLength="8.20" lengthAdjust="spacingAndGlyphs" stroke="#000" stroke-width="0.12">0.529</text>
<text x="364.25" y="97.45" font-size="3.40" fill="#000" font-weight="bold" textLength="8.20" lengthAdjust="spacingAndGlyphs" stroke="#000" stroke-width="0.12">0.690</text>
<text x="376.95" y="97.45" font-size="3.40" fill="#000" font-weight="bold" textLength="8.20" lengthAdjust="spacingAndGlyphs" stroke="#000" stroke-width="0.12">1.147</text>
<text x="313.07" y="110.05" font-size="3.40" fill="#000" font-weight="bold" textLength="7.95" lengthAdjust="spacingAndGlyphs" stroke="#000" stroke-width="0.12">1.000</text>
<text x="325.90" y="110.05" font-size="3.40" fill="#000" font-weight="bold" textLength="8.20" lengthAdjust="spacingAndGlyphs" stroke="#000" stroke-width="0.12">0.276</text>
<text x="338.85" y="110.05" font-size="3.40" fill="#000" font-weight="bold" textLength="8.20" lengthAdjust="spacingAndGlyphs" stroke="#000" stroke-width="0.12">0.494</text>
<text x="351.65" y="110.05" font-size="3.40" fill="#000" font-weight="bold" textLength="8.20" lengthAdjust="spacingAndGlyphs" stroke="#000" stroke-width="0.12">0.503</text>
<text x="364.25" y="110.05" font-size="3.40" fill="#000" font-weight="bold" textLength="8.20" lengthAdjust="spacingAndGlyphs" stroke="#000" stroke-width="0.12">0.662</text>
<text x="376.95" y="110.05" font-size="3.40" fill="#000" font-weight="bold" textLength="8.20" lengthAdjust="spacingAndGlyphs" stroke="#000" stroke-width="0.12">0.816</text>
<text x="313.07" y="122.65" font-size="3.40" fill="#000" font-weight="bold" textLength="7.95" lengthAdjust="spacingAndGlyphs" stroke="#000" stroke-width="0.12">0.316</text>
<text x="325.90" y="122.65" font-size="3.40" fill="#000" font-weight="bold" textLength="8.20" lengthAdjust="spacingAndGlyphs" stroke="#000" stroke-width="0.12">0.274</text>
<text x="338.85" y="122.65" font-size="3.40" fill="#000" font-weight="bold" textLength="8.20" lengthAdjust="spacingAndGlyphs" stroke="#000" stroke-width="0.12">0.595</text>
<text x="351.65" y="122.65" font-size="3.40" fill="#000" font-weight="bold" textLength="8.20" lengthAdjust="spacingAndGlyphs" stroke="#000" stroke-width="0.12">0.463</text>
<text x="364.25" y="122.65" font-size="3.40" fill="#000" font-weight="bold" textLength="8.20" lengthAdjust="spacingAndGlyphs" stroke="#000" stroke-width="0.12">0.318</text>
<text x="376.95" y="122.65" font-size="3.40" fill="#000" font-weight="bold" textLength="8.20" lengthAdjust="spacingAndGlyphs" stroke="#000" stroke-width="0.12">0.319</text>
<text x="313.07" y="134.85" font-size="3.40" fill="#000" font-weight="bold" textLength="7.95" lengthAdjust="spacingAndGlyphs" stroke="#000" stroke-width="0.12">0.100</text>
<text x="325.90" y="134.85" font-size="3.40" fill="#000" font-weight="bold" textLength="8.20" lengthAdjust="spacingAndGlyphs" stroke="#000" stroke-width="0.12">0.314</text>
<text x="338.85" y="134.85" font-size="3.40" fill="#000" font-weight="bold" textLength="8.20" lengthAdjust="spacingAndGlyphs" stroke="#000" stroke-width="0.12">0.459</text>
<text x="351.65" y="134.85" font-size="3.40" fill="#000" font-weight="bold" textLength="8.20" lengthAdjust="spacingAndGlyphs" stroke="#000" stroke-width="0.12">0.430</text>
<text x="365.05" y="134.85" font-size="3.40" fill="#000" font-weight="bold" textLength="6.60" lengthAdjust="spacingAndGlyphs" stroke="#000" stroke-width="0.12">0.24</text>
<text x="376.95" y="134.85" font-size="3.40" fill="#000" font-weight="bold" textLength="8.20" lengthAdjust="spacingAndGlyphs" stroke="#000" stroke-width="0.12">0.108</text>
<rect x="324.10" y="141.80" width="62.80" height="3.60" fill="url(#cb)" stroke="#333" stroke-width="0.5"/>
<text x="325.36" y="150.20" font-size="3.80" fill="#111" text-anchor="middle" font-weight="bold">0</text>
<text x="355.81" y="150.20" font-size="3.80" fill="#111" text-anchor="middle" font-weight="bold">1</text>
<text x="385.33" y="150.20" font-size="3.80" fill="#111" text-anchor="middle" font-weight="bold">10</text>
<text x="333.30" y="61.50" font-size="7.54" fill="#222" textLength="33.10" lengthAdjust="spacingAndGlyphs">KIN-8194</text>
<text x="304.70" y="125.00" font-size="10.00" fill="#222" textLength="35.40" lengthAdjust="spacingAndGlyphs" transform="rotate(-90 304.70 125.00)">Venetoclax</text>
<rect x="310.60" y="167.90" width="76.90" height="75.00" fill="#fff"/>
<rect x="323.50" y="180.00" width="13.00" height="12.90" fill="#fa050f"/>
<rect x="336.50" y="180.00" width="12.90" height="12.90" fill="#fa0512"/>
<rect x="349.40" y="180.00" width="12.70" height="12.90" fill="#f50a1e"/>
<rect x="362.10" y="180.00" width="12.50" height="12.90" fill="#fa050f"/>
<rect x="374.60" y="180.00" width="12.90" height="12.90" fill="#fa050f"/>
<rect x="323.50" y="192.90" width="13.00" height="12.50" fill="#fa0514"/>
<rect x="336.50" y="192.90" width="12.90" height="12.50" fill="#f51e46"/>
<rect x="349.40" y="192.90" width="12.70" height="12.50" fill="#f51e46"/>
<rect x="362.10" y="192.90" width="12.50" height="12.50" fill="#fa0514"/>
<rect x="374.60" y="192.90" width="12.90" height="12.50" fill="#fa0514"/>
<rect x="323.50" y="205.40" width="13.00" height="12.50" fill="#fa050f"/>
<rect x="336.50" y="205.40" width="12.90" height="12.50" fill="#fa508c"/>
<rect x="349.40" y="205.40" width="12.70" height="12.50" fill="#f5193c"/>
<rect x="362.10" y="205.40" width="12.50" height="12.50" fill="#f50f2d"/>
<rect x="374.60" y="205.40" width="12.90" height="12.50" fill="#fa050f"/>
<rect x="323.50" y="217.90" width="13.00" height="12.50" fill="#fa0514"/>
<rect x="336.50" y="217.90" width="12.90" height="12.50" fill="#f52d5f"/>
<rect x="349.40" y="217.90" width="12.70" height="12.50" fill="#f5193c"/>
<rect x="362.10" y="217.90" width="12.50" height="12.50" fill="#f50f2d"/>
<rect x="374.60" y="217.90" width="12.90" height="12.50" fill="#fa050f"/>
<rect x="323.50" y="230.40" width="13.00" height="12.50" fill="#fa0514"/>
<rect x="336.50" y="230.40" width="12.90" height="12.50" fill="#f51e46"/>
<rect x="349.40" y="230.40" width="12.70" height="12.50" fill="#f51e46"/>
<rect x="362.10" y="230.40" width="12.50" height="12.50" fill="#fa0519"/>
<rect x="374.60" y="230.40" width="12.90" height="12.50" fill="#fa050f"/>
<line x1="323.50" y1="167.90" x2="323.50" y2="242.90" stroke="#000" stroke-width="0.8" stroke-opacity="0.28"/>
<line x1="336.50" y1="167.90" x2="336.50" y2="242.90" stroke="#000" stroke-width="0.8" stroke-opacity="0.28"/>
<line x1="349.40" y1="167.90" x2="349.40" y2="242.90" stroke="#000" stroke-width="0.8" stroke-opacity="0.28"/>
<line x1="362.10" y1="167.90" x2="362.10" y2="242.90" stroke="#000" stroke-width="0.8" stroke-opacity="0.28"/>
<line x1="374.60" y1="167.90" x2="374.60" y2="242.90" stroke="#000" stroke-width="0.8" stroke-opacity="0.28"/>
<line x1="310.60" y1="180.00" x2="387.50" y2="180.00" stroke="#000" stroke-width="0.8" stroke-opacity="0.28"/>
<line x1="310.60" y1="192.90" x2="387.50" y2="192.90" stroke="#000" stroke-width="0.8" stroke-opacity="0.28"/>
<line x1="310.60" y1="205.40" x2="387.50" y2="205.40" stroke="#000" stroke-width="0.8" stroke-opacity="0.28"/>
<line x1="310.60" y1="217.90" x2="387.50" y2="217.90" stroke="#000" stroke-width="0.8" stroke-opacity="0.28"/>
<line x1="310.60" y1="230.40" x2="387.50" y2="230.40" stroke="#000" stroke-width="0.8" stroke-opacity="0.28"/>
<rect x="310.60" y="167.90" width="76.90" height="75.00" fill="none" stroke="#333" stroke-width="0.9"/>
<text x="314.75" y="175.15" font-size="3.40" fill="#000" font-weight="bold" textLength="4.60" lengthAdjust="spacingAndGlyphs" stroke="#000" stroke-width="0.12">µM</text>
<text x="325.20" y="175.15" font-size="3.40" fill="#000" font-weight="bold" textLength="9.60" lengthAdjust="spacingAndGlyphs" stroke="#000" stroke-width="0.12">0.1000</text>
<text x="338.15" y="175.15" font-size="3.40" fill="#000" font-weight="bold" textLength="9.60" lengthAdjust="spacingAndGlyphs" stroke="#000" stroke-width="0.12">0.0316</text>
<text x="350.95" y="175.15" font-size="3.40" fill="#000" font-weight="bold" textLength="9.60" lengthAdjust="spacingAndGlyphs" stroke="#000" stroke-width="0.12">0.0100</text>
<text x="363.55" y="175.15" font-size="3.40" fill="#000" font-weight="bold" textLength="9.60" lengthAdjust="spacingAndGlyphs" stroke="#000" stroke-width="0.12">0.0032</text>
<text x="376.25" y="175.15" font-size="3.40" fill="#000" font-weight="bold" textLength="9.60" lengthAdjust="spacingAndGlyphs" stroke="#000" stroke-width="0.12">0.0010</text>
<text x="312.30" y="187.65" font-size="3.40" fill="#000" font-weight="bold" textLength="9.50" lengthAdjust="spacingAndGlyphs" stroke="#000" stroke-width="0.12">20.000</text>
<text x="325.90" y="187.65" font-size="3.40" fill="#000" font-weight="bold" textLength="8.20" lengthAdjust="spacingAndGlyphs" stroke="#000" stroke-width="0.12">0.127</text>
<text x="338.85" y="187.65" font-size="3.40" fill="#000" font-weight="bold" textLength="8.20" lengthAdjust="spacingAndGlyphs" stroke="#000" stroke-width="0.12">0.158</text>
<text x="351.65" y="187.65" font-size="3.40" fill="#000" font-weight="bold" textLength="8.20" lengthAdjust="spacingAndGlyphs" stroke="#000" stroke-width="0.12">0.245</text>
<text x="364.25" y="187.65" font-size="3.40" fill="#000" font-weight="bold" textLength="8.20" lengthAdjust="spacingAndGlyphs" stroke="#000" stroke-width="0.12">0.018</text>
<text x="376.95" y="187.65" font-size="3.40" fill="#000" font-weight="bold" textLength="8.20" lengthAdjust="spacingAndGlyphs" stroke="#000" stroke-width="0.12">0.008</text>
<text x="313.07" y="200.35" font-size="3.40" fill="#000" font-weight="bold" textLength="7.95" lengthAdjust="spacingAndGlyphs" stroke="#000" stroke-width="0.12">6.325</text>
<text x="325.90" y="200.35" font-size="3.40" fill="#000" font-weight="bold" textLength="8.20" lengthAdjust="spacingAndGlyphs" stroke="#000" stroke-width="0.12">0.125</text>
<text x="338.85" y="200.35" font-size="3.40" fill="#000" font-weight="bold" textLength="8.20" lengthAdjust="spacingAndGlyphs" stroke="#000" stroke-width="0.12">0.342</text>
<text x="351.65" y="200.35" font-size="3.40" fill="#000" font-weight="bold" textLength="8.20" lengthAdjust="spacingAndGlyphs" stroke="#000" stroke-width="0.12">0.319</text>
<text x="364.25" y="200.35" font-size="3.40" fill="#000" font-weight="bold" textLength="8.20" lengthAdjust="spacingAndGlyphs" stroke="#000" stroke-width="0.12">0.107</text>
<text x="376.95" y="200.35" font-size="3.40" fill="#000" font-weight="bold" textLength="8.20" lengthAdjust="spacingAndGlyphs" stroke="#000" stroke-width="0.12">0.094</text>
<text x="313.07" y="212.85" font-size="3.40" fill="#000" font-weight="bold" textLength="7.95" lengthAdjust="spacingAndGlyphs" stroke="#000" stroke-width="0.12">2.000</text>
<text x="325.90" y="212.85" font-size="3.40" fill="#000" font-weight="bold" textLength="8.20" lengthAdjust="spacingAndGlyphs" stroke="#000" stroke-width="0.12">0.087</text>
<text x="339.65" y="212.85" font-size="3.40" fill="#000" font-weight="bold" textLength="6.60" lengthAdjust="spacingAndGlyphs" stroke="#000" stroke-width="0.12">0.48</text>
<text x="351.65" y="212.85" font-size="3.40" fill="#000" font-weight="bold" textLength="8.20" lengthAdjust="spacingAndGlyphs" stroke="#000" stroke-width="0.12">0.313</text>
<text x="364.25" y="212.85" font-size="3.40" fill="#000" font-weight="bold" textLength="8.20" lengthAdjust="spacingAndGlyphs" stroke="#000" stroke-width="0.12">0.222</text>
<text x="376.95" y="212.85" font-size="3.40" fill="#000" font-weight="bold" textLength="8.20" lengthAdjust="spacingAndGlyphs" stroke="#000" stroke-width="0.12">0.027</text>
<text x="313.07" y="225.35" font-size="3.40" fill="#000" font-weight="bold" textLength="7.95" lengthAdjust="spacingAndGlyphs" stroke="#000" stroke-width="0.12">0.632</text>
<text x="325.90" y="225.35" font-size="3.40" fill="#000" font-weight="bold" textLength="8.20" lengthAdjust="spacingAndGlyphs" stroke="#000" stroke-width="0.12">0.118</text>
<text x="338.85" y="225.35" font-size="3.40" fill="#000" font-weight="bold" textLength="8.20" lengthAdjust="spacingAndGlyphs" stroke="#000" stroke-width="0.12">0.424</text>
<text x="351.65" y="225.35" font-size="3.40" fill="#000" font-weight="bold" textLength="8.20" lengthAdjust="spacingAndGlyphs" stroke="#000" stroke-width="0.12">0.323</text>
<text x="364.25" y="225.35" font-size="3.40" fill="#000" font-weight="bold" textLength="8.20" lengthAdjust="spacingAndGlyphs" stroke="#000" stroke-width="0.12">0.222</text>
<text x="376.95" y="225.35" font-size="3.40" fill="#000" font-weight="bold" textLength="8.20" lengthAdjust="spacingAndGlyphs" stroke="#000" stroke-width="0.12">0.063</text>
<text x="313.07" y="237.85" font-size="3.40" fill="#000" font-weight="bold" textLength="7.95" lengthAdjust="spacingAndGlyphs" stroke="#000" stroke-width="0.12">0.200</text>
<text x="325.90" y="237.85" font-size="3.40" fill="#000" font-weight="bold" textLength="8.20" lengthAdjust="spacingAndGlyphs" stroke="#000" stroke-width="0.12">0.181</text>
<text x="338.85" y="237.85" font-size="3.40" fill="#000" font-weight="bold" textLength="8.20" lengthAdjust="spacingAndGlyphs" stroke="#000" stroke-width="0.12">0.368</text>
<text x="351.65" y="237.85" font-size="3.40" fill="#000" font-weight="bold" textLength="8.20" lengthAdjust="spacingAndGlyphs" stroke="#000" stroke-width="0.12">0.356</text>
<text x="364.25" y="237.85" font-size="3.40" fill="#000" font-weight="bold" textLength="8.20" lengthAdjust="spacingAndGlyphs" stroke="#000" stroke-width="0.12">0.191</text>
<text x="377.75" y="237.85" font-size="3.40" fill="#000" font-weight="bold" textLength="6.60" lengthAdjust="spacingAndGlyphs" stroke="#000" stroke-width="0.12">0.06</text>
<rect x="324.10" y="245.10" width="62.80" height="3.60" fill="url(#cb)" stroke="#333" stroke-width="0.5"/>
<text x="325.36" y="253.50" font-size="3.80" fill="#111" text-anchor="middle" font-weight="bold">0</text>
<text x="355.81" y="253.50" font-size="3.80" fill="#111" text-anchor="middle" font-weight="bold">1</text>
<text x="385.33" y="253.50" font-size="3.80" fill="#111" text-anchor="middle" font-weight="bold">10</text>
<text x="333.30" y="164.60" font-size="8.41" fill="#222" textLength="32.80" lengthAdjust="spacingAndGlyphs">KIN-8194</text>
<text x="304.70" y="227.80" font-size="10.00" fill="#222" textLength="35.40" lengthAdjust="spacingAndGlyphs" transform="rotate(-90 304.70 227.80)">Venetoclax</text>
<rect x="310.60" y="271.70" width="76.90" height="74.60" fill="#fff"/>
<rect x="323.50" y="283.80" width="13.00" height="12.90" fill="#f50f28"/>
<rect x="336.50" y="283.80" width="12.90" height="12.90" fill="#f51937"/>
<rect x="349.40" y="283.80" width="12.70" height="12.90" fill="#fa0a19"/>
<rect x="362.10" y="283.80" width="12.50" height="12.90" fill="#ff050f"/>
<rect x="374.60" y="283.80" width="12.90" height="12.90" fill="#ff050f"/>
<rect x="323.50" y="296.70" width="13.00" height="12.50" fill="#fa0514"/>
<rect x="336.50" y="296.70" width="12.90" height="12.50" fill="#ff78af"/>
<rect x="349.40" y="296.70" width="12.70" height="12.50" fill="#ff78b4"/>
<rect x="362.10" y="296.70" width="12.50" height="12.50" fill="#fa5087"/>
<rect x="374.60" y="296.70" width="12.90" height="12.50" fill="#f52d5a"/>
<rect x="323.50" y="309.20" width="13.00" height="12.10" fill="#fa0514"/>
<rect x="336.50" y="309.20" width="12.90" height="12.10" fill="#ff7db4"/>
<rect x="349.40" y="309.20" width="12.70" height="12.10" fill="#ff64a0"/>
<rect x="362.10" y="309.20" width="12.50" height="12.10" fill="#f52855"/>
<rect x="374.60" y="309.20" width="12.90" height="12.10" fill="#fa0514"/>
<rect x="323.50" y="321.30" width="13.00" height="12.50" fill="#fa0514"/>
<rect x="336.50" y="321.30" width="12.90" height="12.50" fill="#ff82b9"/>
<rect x="349.40" y="321.30" width="12.70" height="12.50" fill="#ff6eaa"/>
<rect x="362.10" y="321.30" width="12.50" height="12.50" fill="#f51e41"/>
<rect x="374.60" y="321.30" width="12.90" height="12.50" fill="#fa0514"/>
<rect x="323.50" y="333.80" width="13.00" height="12.50" fill="#fa0a1e"/>
<rect x="336.50" y="333.80" width="12.90" height="12.50" fill="#ff82b9"/>
<rect x="349.40" y="333.80" width="12.70" height="12.50" fill="#fa467d"/>
<rect x="362.10" y="333.80" width="12.50" height="12.50" fill="#f51e41"/>
<rect x="374.60" y="333.80" width="12.90" height="12.50" fill="#fa0514"/>
<line x1="323.50" y1="271.70" x2="323.50" y2="346.30" stroke="#000" stroke-width="0.8" stroke-opacity="0.28"/>
<line x1="336.50" y1="271.70" x2="336.50" y2="346.30" stroke="#000" stroke-width="0.8" stroke-opacity="0.28"/>
<line x1="349.40" y1="271.70" x2="349.40" y2="346.30" stroke="#000" stroke-width="0.8" stroke-opacity="0.28"/>
<line x1="362.10" y1="271.70" x2="362.10" y2="346.30" stroke="#000" stroke-width="0.8" stroke-opacity="0.28"/>
<line x1="374.60" y1="271.70" x2="374.60" y2="346.30" stroke="#000" stroke-width="0.8" stroke-opacity="0.28"/>
<line x1="310.60" y1="283.80" x2="387.50" y2="283.80" stroke="#000" stroke-width="0.8" stroke-opacity="0.28"/>
<line x1="310.60" y1="296.70" x2="387.50" y2="296.70" stroke="#000" stroke-width="0.8" stroke-opacity="0.28"/>
<line x1="310.60" y1="309.20" x2="387.50" y2="309.20" stroke="#000" stroke-width="0.8" stroke-opacity="0.28"/>
<line x1="310.60" y1="321.30" x2="387.50" y2="321.30" stroke="#000" stroke-width="0.8" stroke-opacity="0.28"/>
<line x1="310.60" y1="333.80" x2="387.50" y2="333.80" stroke="#000" stroke-width="0.8" stroke-opacity="0.28"/>
<rect x="310.60" y="271.70" width="76.90" height="74.60" fill="none" stroke="#333" stroke-width="0.9"/>
<text x="314.75" y="278.95" font-size="3.40" fill="#000" font-weight="bold" textLength="4.60" lengthAdjust="spacingAndGlyphs" stroke="#000" stroke-width="0.12">µM</text>
<text x="325.20" y="278.95" font-size="3.40" fill="#000" font-weight="bold" textLength="9.60" lengthAdjust="spacingAndGlyphs" stroke="#000" stroke-width="0.12">0.1000</text>
<text x="338.15" y="278.95" font-size="3.40" fill="#000" font-weight="bold" textLength="9.60" lengthAdjust="spacingAndGlyphs" stroke="#000" stroke-width="0.12">0.0316</text>
<text x="350.95" y="278.95" font-size="3.40" fill="#000" font-weight="bold" textLength="9.60" lengthAdjust="spacingAndGlyphs" stroke="#000" stroke-width="0.12">0.0100</text>
<text x="363.55" y="278.95" font-size="3.40" fill="#000" font-weight="bold" textLength="9.60" lengthAdjust="spacingAndGlyphs" stroke="#000" stroke-width="0.12">0.0032</text>
<text x="376.25" y="278.95" font-size="3.40" fill="#000" font-weight="bold" textLength="9.60" lengthAdjust="spacingAndGlyphs" stroke="#000" stroke-width="0.12">0.0010</text>
<text x="312.30" y="291.45" font-size="3.40" fill="#000" font-weight="bold" textLength="9.50" lengthAdjust="spacingAndGlyphs" stroke="#000" stroke-width="0.12">20.000</text>
<text x="325.90" y="291.45" font-size="3.40" fill="#000" font-weight="bold" textLength="8.20" lengthAdjust="spacingAndGlyphs" stroke="#000" stroke-width="0.12">0.181</text>
<text x="338.85" y="291.45" font-size="3.40" fill="#000" font-weight="bold" textLength="8.20" lengthAdjust="spacingAndGlyphs" stroke="#000" stroke-width="0.12">0.209</text>
<text x="351.65" y="291.45" font-size="3.40" fill="#000" font-weight="bold" textLength="8.20" lengthAdjust="spacingAndGlyphs" stroke="#000" stroke-width="0.12">0.124</text>
<text x="364.25" y="291.45" font-size="3.40" fill="#000" font-weight="bold" textLength="8.20" lengthAdjust="spacingAndGlyphs" stroke="#000" stroke-width="0.12">0.058</text>
<text x="376.95" y="291.45" font-size="3.40" fill="#000" font-weight="bold" textLength="8.20" lengthAdjust="spacingAndGlyphs" stroke="#000" stroke-width="0.12">0.049</text>
<text x="313.07" y="304.15" font-size="3.40" fill="#000" font-weight="bold" textLength="7.95" lengthAdjust="spacingAndGlyphs" stroke="#000" stroke-width="0.12">6.325</text>
<text x="325.90" y="304.15" font-size="3.40" fill="#000" font-weight="bold" textLength="8.20" lengthAdjust="spacingAndGlyphs" stroke="#000" stroke-width="0.12">0.118</text>
<text x="338.85" y="304.15" font-size="3.40" fill="#000" font-weight="bold" textLength="8.20" lengthAdjust="spacingAndGlyphs" stroke="#000" stroke-width="0.12">0.569</text>
<text x="351.65" y="304.15" font-size="3.40" fill="#000" font-weight="bold" textLength="8.20" lengthAdjust="spacingAndGlyphs" stroke="#000" stroke-width="0.12">0.505</text>
<text x="364.25" y="304.15" font-size="3.40" fill="#000" font-weight="bold" textLength="8.20" lengthAdjust="spacingAndGlyphs" stroke="#000" stroke-width="0.12">0.454</text>
<text x="376.95" y="304.15" font-size="3.40" fill="#000" font-weight="bold" textLength="8.20" lengthAdjust="spacingAndGlyphs" stroke="#000" stroke-width="0.12">0.325</text>
<text x="313.07" y="316.45" font-size="3.40" fill="#000" font-weight="bold" textLength="7.95" lengthAdjust="spacingAndGlyphs" stroke="#000" stroke-width="0.12">2.000</text>
<text x="325.90" y="316.45" font-size="3.40" fill="#000" font-weight="bold" textLength="8.20" lengthAdjust="spacingAndGlyphs" stroke="#000" stroke-width="0.12">0.118</text>
<text x="338.85" y="316.45" font-size="3.40" fill="#000" font-weight="bold" textLength="8.20" lengthAdjust="spacingAndGlyphs" stroke="#000" stroke-width="0.12">0.577</text>
<text x="351.65" y="316.45" font-size="3.40" fill="#000" font-weight="bold" textLength="8.20" lengthAdjust="spacingAndGlyphs" stroke="#000" stroke-width="0.12">0.536</text>
<text x="364.25" y="316.45" font-size="3.40" fill="#000" font-weight="bold" textLength="8.20" lengthAdjust="spacingAndGlyphs" stroke="#000" stroke-width="0.12">0.367</text>
<text x="376.95" y="316.45" font-size="3.40" fill="#000" font-weight="bold" textLength="8.20" lengthAdjust="spacingAndGlyphs" stroke="#000" stroke-width="0.12">0.113</text>
<text x="313.07" y="328.75" font-size="3.40" fill="#000" font-weight="bold" textLength="7.95" lengthAdjust="spacingAndGlyphs" stroke="#000" stroke-width="0.12">0.632</text>
<text x="325.90" y="328.75" font-size="3.40" fill="#000" font-weight="bold" textLength="8.20" lengthAdjust="spacingAndGlyphs" stroke="#000" stroke-width="0.12">0.120</text>
<text x="338.85" y="328.75" font-size="3.40" fill="#000" font-weight="bold" textLength="8.20" lengthAdjust="spacingAndGlyphs" stroke="#000" stroke-width="0.12">0.592</text>
<text x="351.65" y="328.75" font-size="3.40" fill="#000" font-weight="bold" textLength="8.20" lengthAdjust="spacingAndGlyphs" stroke="#000" stroke-width="0.12">0.559</text>
<text x="364.25" y="328.75" font-size="3.40" fill="#000" font-weight="bold" textLength="8.20" lengthAdjust="spacingAndGlyphs" stroke="#000" stroke-width="0.12">0.281</text>
<text x="376.95" y="328.75" font-size="3.40" fill="#000" font-weight="bold" textLength="8.20" lengthAdjust="spacingAndGlyphs" stroke="#000" stroke-width="0.12">0.106</text>
<text x="313.07" y="341.25" font-size="3.40" fill="#000" font-weight="bold" textLength="7.95" lengthAdjust="spacingAndGlyphs" stroke="#000" stroke-width="0.12">0.200</text>
<text x="325.90" y="341.25" font-size="3.40" fill="#000" font-weight="bold" textLength="8.20" lengthAdjust="spacingAndGlyphs" stroke="#000" stroke-width="0.12">0.165</text>
<text x="338.85" y="341.25" font-size="3.40" fill="#000" font-weight="bold" textLength="8.20" lengthAdjust="spacingAndGlyphs" stroke="#000" stroke-width="0.12">0.604</text>
<text x="351.65" y="341.25" font-size="3.40" fill="#000" font-weight="bold" textLength="8.20" lengthAdjust="spacingAndGlyphs" stroke="#000" stroke-width="0.12">0.459</text>
<text x="364.25" y="341.25" font-size="3.40" fill="#000" font-weight="bold" textLength="8.20" lengthAdjust="spacingAndGlyphs" stroke="#000" stroke-width="0.12">0.266</text>
<text x="376.95" y="341.25" font-size="3.40" fill="#000" font-weight="bold" textLength="8.20" lengthAdjust="spacingAndGlyphs" stroke="#000" stroke-width="0.12">0.052</text>
<rect x="324.10" y="348.50" width="62.80" height="3.60" fill="url(#cb)" stroke="#333" stroke-width="0.5"/>
<text x="325.36" y="356.90" font-size="3.80" fill="#111" text-anchor="middle" font-weight="bold">0</text>
<text x="355.81" y="356.90" font-size="3.80" fill="#111" text-anchor="middle" font-weight="bold">1</text>
<text x="385.33" y="356.90" font-size="3.80" fill="#111" text-anchor="middle" font-weight="bold">10</text>
<text x="333.30" y="268.80" font-size="8.84" fill="#222" textLength="32.80" lengthAdjust="spacingAndGlyphs">KIN-8194</text>
<text x="304.70" y="331.00" font-size="10.00" fill="#222" textLength="35.50" lengthAdjust="spacingAndGlyphs" transform="rotate(-90 304.70 331.00)">Venetoclax</text>
<line x1="172.60" y1="64.80" x2="172.60" y2="125.70" stroke="#e2e2e2" stroke-width="0.8"/>
<line x1="169.10" y1="125.70" x2="265.00" y2="125.70" stroke="#b8c4c4" stroke-width="1.6"/>
<line x1="170.60" y1="64.80" x2="172.60" y2="64.80" stroke="#777" stroke-width="0.5"/>
<text x="170.20" y="66.25" font-size="4.20" fill="#222" text-anchor="end" stroke="#111" stroke-width="0.05">1.0</text>
<line x1="170.60" y1="77.50" x2="172.60" y2="77.50" stroke="#777" stroke-width="0.5"/>
<text x="170.20" y="78.95" font-size="4.20" fill="#222" text-anchor="end" stroke="#111" stroke-width="0.05">0.8</text>
<line x1="170.60" y1="89.40" x2="172.60" y2="89.40" stroke="#777" stroke-width="0.5"/>
<text x="170.20" y="90.85" font-size="4.20" fill="#222" text-anchor="end" stroke="#111" stroke-width="0.05">0.6</text>
<line x1="170.60" y1="101.00" x2="172.60" y2="101.00" stroke="#777" stroke-width="0.5"/>
<text x="170.20" y="102.45" font-size="4.20" fill="#222" text-anchor="end" stroke="#111" stroke-width="0.05">0.4</text>
<line x1="170.60" y1="113.00" x2="172.60" y2="113.00" stroke="#777" stroke-width="0.5"/>
<text x="170.20" y="114.45" font-size="4.20" fill="#222" text-anchor="end" stroke="#111" stroke-width="0.05">0.2</text>
<line x1="170.60" y1="125.70" x2="172.60" y2="125.70" stroke="#777" stroke-width="0.5"/>
<text x="170.20" y="127.15" font-size="4.20" fill="#222" text-anchor="end" stroke="#111" stroke-width="0.05">0</text>
<line x1="173.70" y1="125.70" x2="173.70" y2="127.20" stroke="#777" stroke-width="0.5"/>
<text x="173.70" y="132.00" font-size="4.20" fill="#222" text-anchor="middle" stroke="#111" stroke-width="0.05">0</text>
<line x1="191.70" y1="125.70" x2="191.70" y2="127.20" stroke="#777" stroke-width="0.5"/>
<text x="191.70" y="132.00" font-size="4.20" fill="#222" text-anchor="middle" stroke="#111" stroke-width="0.05">0.2</text>
<line x1="210.10" y1="125.70" x2="210.10" y2="127.20" stroke="#777" stroke-width="0.5"/>
<text x="210.10" y="132.00" font-size="4.20" fill="#222" text-anchor="middle" stroke="#111" stroke-width="0.05">0.4</text>
<line x1="228.00" y1="125.70" x2="228.00" y2="127.20" stroke="#777" stroke-width="0.5"/>
<text x="228.00" y="132.00" font-size="4.20" fill="#222" text-anchor="middle" stroke="#111" stroke-width="0.05">0.6</text>
<line x1="246.30" y1="125.70" x2="246.30" y2="127.20" stroke="#777" stroke-width="0.5"/>
<text x="246.30" y="132.00" font-size="4.20" fill="#222" text-anchor="middle" stroke="#111" stroke-width="0.05">0.8</text>
<line x1="264.30" y1="125.70" x2="264.30" y2="127.20" stroke="#777" stroke-width="0.5"/>
<text x="264.30" y="132.00" font-size="4.20" fill="#222" text-anchor="middle" stroke="#111" stroke-width="0.05">1.0</text>
<line x1="172.60" y1="64.80" x2="264.50" y2="125.70" stroke="#c9a0b4" stroke-width="0.7"/>
<path d="M196.90,90.40L199.10,92.60M196.90,92.60L199.10,90.40" stroke="#e07a9a" stroke-width="0.6" fill="none"/>
<text x="196.50" y="89.90" font-size="3.90" fill="#111" text-anchor="middle" font-weight="bold" stroke="#111" stroke-width="0.05">8</text>
<path d="M215.90,96.40L218.10,98.60M215.90,98.60L218.10,96.40" stroke="#e07a9a" stroke-width="0.6" fill="none"/>
<text x="215.50" y="95.90" font-size="3.90" fill="#111" text-anchor="middle" font-weight="bold" stroke="#111" stroke-width="0.05">2</text>
<text x="177.50" y="105.70" font-size="3.90" fill="#111" text-anchor="middle" font-weight="bold" stroke="#111" stroke-width="0.05">7</text>
<text x="181.00" y="107.70" font-size="3.90" fill="#111" text-anchor="middle" font-weight="bold" stroke="#111" stroke-width="0.05">13</text>
<path d="M177.90,106.70L180.10,108.90M177.90,108.90L180.10,106.70" stroke="#e07a9a" stroke-width="0.6" fill="none"/>
<path d="M181.40,108.90L183.60,111.10M181.40,111.10L183.60,108.90" stroke="#e07a9a" stroke-width="0.6" fill="none"/>
<text x="173.50" y="111.70" font-size="3.90" fill="#111" text-anchor="middle" font-weight="bold" stroke="#111" stroke-width="0.05">15</text>
<text x="175.50" y="110.90" font-size="3.90" fill="#111" text-anchor="middle" font-weight="bold" stroke="#111" stroke-width="0.05">2</text>
<circle cx="174.50" cy="113.80" r="1.70" fill="#ee1122"/>
<circle cx="176.30" cy="112.60" r="1.70" fill="#ee1122"/>
<text x="178.50" y="116.10" font-size="3.90" fill="#111" text-anchor="middle" font-weight="bold" stroke="#111" stroke-width="0.05">2</text>
<text x="173.20" y="118.60" font-size="3.90" fill="#111" text-anchor="middle" font-weight="bold" stroke="#111" stroke-width="0.05">1</text>
<path d="M174.40,119.90L176.60,122.10M174.40,122.10L176.60,119.90" stroke="#e07a9a" stroke-width="0.6" fill="none"/>
<path d="M179.40,116.40L181.60,118.60M179.40,118.60L181.60,116.40" stroke="#e07a9a" stroke-width="0.6" fill="none"/>
<text x="190.50" y="114.90" font-size="3.90" fill="#111" text-anchor="middle" font-weight="bold" stroke="#111" stroke-width="0.05">14</text>
<path d="M190.90,115.70L193.10,117.90M190.90,117.90L193.10,115.70" stroke="#e07a9a" stroke-width="0.6" fill="none"/>
<text x="211.00" y="113.80" font-size="3.90" fill="#111" text-anchor="middle" font-weight="bold" stroke="#111" stroke-width="0.05">9</text>
<circle cx="212.40" cy="115.80" r="1.70" fill="#ee1122"/>
<text x="219.00" y="119.40" font-size="3.90" fill="#111" text-anchor="middle" font-weight="bold" stroke="#111" stroke-width="0.05">6</text>
<path d="M219.20,120.90L221.40,123.10M219.20,123.10L221.40,120.90" stroke="#e07a9a" stroke-width="0.6" fill="none"/>
<text x="182.00" y="123.80" font-size="3.90" fill="#111" text-anchor="middle" font-weight="bold" stroke="#111" stroke-width="0.05">16</text>
<circle cx="183.70" cy="125.90" r="2.00" fill="#ee1122"/>
<text x="160.50" y="112.90" font-size="10.43" fill="#222" textLength="31.90" lengthAdjust="spacingAndGlyphs" transform="rotate(-90 160.50 112.90)">KIN-8194</text>
<g stroke="#222" stroke-width="0.22">
<text x="198.50" y="144.40" font-size="10.29" fill="#222" textLength="35.50" lengthAdjust="spacingAndGlyphs">Venetoclax</text>
</g>
<line x1="173.10" y1="167.90" x2="173.10" y2="228.50" stroke="#555" stroke-width="0.8"/>
<line x1="169.60" y1="228.50" x2="265.50" y2="228.50" stroke="#555" stroke-width="0.9"/>
<line x1="171.10" y1="167.90" x2="173.10" y2="167.90" stroke="#777" stroke-width="0.5"/>
<text x="170.70" y="169.35" font-size="4.20" fill="#222" text-anchor="end" stroke="#111" stroke-width="0.05">2.0</text>
<line x1="171.10" y1="183.20" x2="173.10" y2="183.20" stroke="#777" stroke-width="0.5"/>
<text x="170.70" y="184.65" font-size="4.20" fill="#222" text-anchor="end" stroke="#111" stroke-width="0.05">1.5</text>
<line x1="171.10" y1="198.50" x2="173.10" y2="198.50" stroke="#777" stroke-width="0.5"/>
<text x="170.70" y="199.95" font-size="4.20" fill="#222" text-anchor="end" stroke="#111" stroke-width="0.05">1.0</text>
<line x1="171.10" y1="213.00" x2="173.10" y2="213.00" stroke="#777" stroke-width="0.5"/>
<text x="170.70" y="214.45" font-size="4.20" fill="#222" text-anchor="end" stroke="#111" stroke-width="0.05">0.5</text>
<line x1="171.10" y1="228.50" x2="173.10" y2="228.50" stroke="#777" stroke-width="0.5"/>
<text x="170.70" y="229.95" font-size="4.20" fill="#222" text-anchor="end" stroke="#111" stroke-width="0.05">0</text>
<line x1="173.30" y1="228.50" x2="173.30" y2="230.00" stroke="#777" stroke-width="0.5"/>
<text x="173.30" y="234.80" font-size="4.20" fill="#222" text-anchor="middle" stroke="#111" stroke-width="0.05">0</text>
<line x1="191.70" y1="228.50" x2="191.70" y2="230.00" stroke="#777" stroke-width="0.5"/>
<text x="191.70" y="234.80" font-size="4.20" fill="#222" text-anchor="middle" stroke="#111" stroke-width="0.05">0.2</text>
<line x1="210.10" y1="228.50" x2="210.10" y2="230.00" stroke="#777" stroke-width="0.5"/>
<text x="210.10" y="234.80" font-size="4.20" fill="#222" text-anchor="middle" stroke="#111" stroke-width="0.05">0.4</text>
<line x1="228.50" y1="228.50" x2="228.50" y2="230.00" stroke="#777" stroke-width="0.5"/>
<text x="228.50" y="234.80" font-size="4.20" fill="#222" text-anchor="middle" stroke="#111" stroke-width="0.05">0.6</text>
<line x1="246.90" y1="228.50" x2="246.90" y2="230.00" stroke="#777" stroke-width="0.5"/>
<text x="246.90" y="234.80" font-size="4.20" fill="#222" text-anchor="middle" stroke="#111" stroke-width="0.05">0.8</text>
<line x1="265.30" y1="228.50" x2="265.30" y2="230.00" stroke="#777" stroke-width="0.5"/>
<text x="265.30" y="234.80" font-size="4.20" fill="#222" text-anchor="middle" stroke="#111" stroke-width="0.05">1.0</text>
<line x1="173.10" y1="197.90" x2="265.30" y2="228.50" stroke="#c9a0b4" stroke-width="0.7"/>
<circle cx="196.80" cy="208.30" r="1.90" fill="#ee1122"/>
<text x="195.60" y="206.90" font-size="3.90" fill="#111" text-anchor="middle" font-weight="bold" stroke="#111" stroke-width="0.05">6</text>
<path d="M199.10,220.50L201.30,222.70M199.10,222.70L201.30,220.50" stroke="#e07a9a" stroke-width="0.6" fill="none"/>
<text x="198.60" y="219.60" font-size="3.90" fill="#111" text-anchor="middle" font-weight="bold" stroke="#111" stroke-width="0.05">4</text>
<path d="M178.10,212.50L180.30,214.70M178.10,214.70L180.30,212.50" stroke="#e07a9a" stroke-width="0.6" fill="none"/>
<text x="177.60" y="211.50" font-size="3.90" fill="#111" text-anchor="middle" font-weight="bold" stroke="#111" stroke-width="0.05">8</text>
<path d="M172.20,214.80L174.20,216.80M172.20,216.80L174.20,214.80" stroke="#222" stroke-width="0.7" fill="none"/>
<path d="M173.60,216.50L175.60,218.50M173.60,218.50L175.60,216.50" stroke="#222" stroke-width="0.7" fill="none"/>
<text x="172.80" y="215.20" font-size="3.90" fill="#111" text-anchor="middle" font-weight="bold" stroke="#111" stroke-width="0.05">13</text>
<text x="176.00" y="217.40" font-size="3.90" fill="#111" text-anchor="middle" font-weight="bold" stroke="#111" stroke-width="0.05">10</text>
<path d="M172.50,218.00L174.50,220.00M172.50,220.00L174.50,218.00" stroke="#222" stroke-width="0.7" fill="none"/>
<circle cx="173.60" cy="219.80" r="1.70" fill="#ee1122"/>
<circle cx="173.80" cy="222.70" r="1.70" fill="#ee1122"/>
<text x="177.20" y="222.60" font-size="3.90" fill="#111" text-anchor="middle" font-weight="bold" stroke="#111" stroke-width="0.05">5</text>
<text x="180.30" y="225.00" font-size="3.90" fill="#111" text-anchor="middle" font-weight="bold" stroke="#111" stroke-width="0.05">12</text>
<path d="M174.90,223.10L177.10,225.30M174.90,225.30L177.10,223.10" stroke="#e07a9a" stroke-width="0.6" fill="none"/>
<circle cx="181.60" cy="226.50" r="1.90" fill="#ee1122"/>
<circle cx="181.80" cy="228.00" r="1.80" fill="#ee1122"/>
<text x="160.60" y="215.20" font-size="10.58" fill="#222" textLength="31.90" lengthAdjust="spacingAndGlyphs" transform="rotate(-90 160.60 215.20)">KIN-8194</text>
<g stroke="#222" stroke-width="0.22">
<text x="198.40" y="247.40" font-size="10.14" fill="#222" textLength="35.70" lengthAdjust="spacingAndGlyphs">Venetoclax</text>
</g>
<line x1="173.10" y1="270.70" x2="173.10" y2="331.60" stroke="#777" stroke-width="0.8"/>
<line x1="169.60" y1="331.60" x2="265.50" y2="331.60" stroke="#777" stroke-width="0.9"/>
<line x1="171.10" y1="270.70" x2="173.10" y2="270.70" stroke="#777" stroke-width="0.5"/>
<text x="170.70" y="272.15" font-size="4.20" fill="#222" text-anchor="end" stroke="#111" stroke-width="0.05">1.5</text>
<line x1="171.10" y1="292.20" x2="173.10" y2="292.20" stroke="#777" stroke-width="0.5"/>
<text x="170.70" y="293.65" font-size="4.20" fill="#222" text-anchor="end" stroke="#111" stroke-width="0.05">1.0</text>
<line x1="171.10" y1="312.30" x2="173.10" y2="312.30" stroke="#777" stroke-width="0.5"/>
<text x="170.70" y="313.75" font-size="4.20" fill="#222" text-anchor="end" stroke="#111" stroke-width="0.05">0.5</text>
<line x1="171.10" y1="331.90" x2="173.10" y2="331.90" stroke="#777" stroke-width="0.5"/>
<text x="170.70" y="333.35" font-size="4.20" fill="#222" text-anchor="end" stroke="#111" stroke-width="0.05">0</text>
<line x1="173.30" y1="331.60" x2="173.30" y2="333.10" stroke="#777" stroke-width="0.5"/>
<text x="173.30" y="337.90" font-size="4.20" fill="#222" text-anchor="middle" stroke="#111" stroke-width="0.05">0</text>
<line x1="191.70" y1="331.60" x2="191.70" y2="333.10" stroke="#777" stroke-width="0.5"/>
<text x="191.70" y="337.90" font-size="4.20" fill="#222" text-anchor="middle" stroke="#111" stroke-width="0.05">0.2</text>
<line x1="210.10" y1="331.60" x2="210.10" y2="333.10" stroke="#777" stroke-width="0.5"/>
<text x="210.10" y="337.90" font-size="4.20" fill="#222" text-anchor="middle" stroke="#111" stroke-width="0.05">0.4</text>
<line x1="228.50" y1="331.60" x2="228.50" y2="333.10" stroke="#777" stroke-width="0.5"/>
<text x="228.50" y="337.90" font-size="4.20" fill="#222" text-anchor="middle" stroke="#111" stroke-width="0.05">0.6</text>
<line x1="246.90" y1="331.60" x2="246.90" y2="333.10" stroke="#777" stroke-width="0.5"/>
<text x="246.90" y="337.90" font-size="4.20" fill="#222" text-anchor="middle" stroke="#111" stroke-width="0.05">0.8</text>
<line x1="265.30" y1="331.60" x2="265.30" y2="333.10" stroke="#777" stroke-width="0.5"/>
<text x="265.30" y="337.90" font-size="4.20" fill="#222" text-anchor="middle" stroke="#111" stroke-width="0.05">1.0</text>
<line x1="173.10" y1="292.20" x2="265.30" y2="331.60" stroke="#c9a0b4" stroke-width="0.7"/>
<text x="200.00" y="295.40" font-size="3.90" fill="#111" text-anchor="middle" font-weight="bold" stroke="#111" stroke-width="0.05">1</text>
<path d="M201.50,297.90L203.70,300.10M201.50,300.10L203.70,297.90" stroke="#e07a9a" stroke-width="0.6" fill="none"/>
<text x="192.00" y="314.40" font-size="3.90" fill="#111" text-anchor="middle" font-weight="bold" stroke="#111" stroke-width="0.05">8</text>
<path d="M193.10,315.10L195.30,317.30M193.10,317.30L195.30,315.10" stroke="#e07a9a" stroke-width="0.6" fill="none"/>
<text x="227.50" y="315.40" font-size="3.90" fill="#111" text-anchor="middle" font-weight="bold" stroke="#111" stroke-width="0.05">9</text>
<circle cx="229.10" cy="319.00" r="1.70" fill="#ee1122"/>
<text x="240.00" y="325.40" font-size="3.90" fill="#111" text-anchor="middle" font-weight="bold" stroke="#111" stroke-width="0.05">6</text>
<path d="M240.50,326.50L242.70,328.70M240.50,328.70L242.70,326.50" stroke="#e07a9a" stroke-width="0.6" fill="none"/>
<text x="181.50" y="317.40" font-size="3.90" fill="#111" text-anchor="middle" font-weight="bold" stroke="#111" stroke-width="0.05">14</text>
<path d="M182.50,318.90L184.70,321.10M182.50,321.10L184.70,318.90" stroke="#e07a9a" stroke-width="0.6" fill="none"/>
<text x="196.20" y="325.00" font-size="3.90" fill="#111" text-anchor="middle" font-weight="bold" stroke="#111" stroke-width="0.05">3</text>
<path d="M197.10,326.10L199.30,328.30M197.10,328.30L199.30,326.10" stroke="#e07a9a" stroke-width="0.6" fill="none"/>
<text x="183.20" y="328.60" font-size="3.90" fill="#111" text-anchor="middle" font-weight="bold" stroke="#111" stroke-width="0.05">10</text>
<circle cx="185.60" cy="330.50" r="1.90" fill="#ee1122"/>
<text x="187.40" y="329.70" font-size="3.90" fill="#111" text-anchor="middle" font-weight="bold" stroke="#111" stroke-width="0.05">4</text>
<path d="M188.10,330.10L190.30,332.30M188.10,332.30L190.30,330.10" stroke="#e07a9a" stroke-width="0.6" fill="none"/>
<path d="M172.20,318.20L174.20,320.20M172.20,320.20L174.20,318.20" stroke="#222" stroke-width="0.7" fill="none"/>
<path d="M173.40,319.60L175.40,321.60M173.40,321.60L175.40,319.60" stroke="#222" stroke-width="0.7" fill="none"/>
<path d="M174.40,318.80L176.40,320.80M174.40,320.80L176.40,318.80" stroke="#222" stroke-width="0.7" fill="none"/>
<text x="172.20" y="318.70" font-size="3.90" fill="#111" text-anchor="middle" font-weight="bold" stroke="#111" stroke-width="0.05">12</text>
<circle cx="174.20" cy="322.60" r="1.70" fill="#ee1122"/>
<circle cx="174.60" cy="324.20" r="1.70" fill="#ee1122"/>
<text x="177.60" y="325.00" font-size="3.90" fill="#111" text-anchor="middle" font-weight="bold" stroke="#111" stroke-width="0.05">2</text>
<path d="M174.50,325.20L176.70,327.40M174.50,327.40L176.70,325.20" stroke="#e07a9a" stroke-width="0.6" fill="none"/>
<path d="M178.40,327.10L180.60,329.30M178.40,329.30L180.60,327.10" stroke="#e07a9a" stroke-width="0.6" fill="none"/>
<text x="160.60" y="319.20" font-size="10.58" fill="#222" textLength="31.70" lengthAdjust="spacingAndGlyphs" transform="rotate(-90 160.60 319.20)">KIN-8194</text>
<g stroke="#222" stroke-width="0.22">
<text x="198.40" y="350.40" font-size="10.14" fill="#222" textLength="35.70" lengthAdjust="spacingAndGlyphs">Venetoclax</text>
</g>
<line x1="415.90" y1="64.80" x2="415.90" y2="125.30" stroke="#b5b5b5" stroke-width="1.0"/>
<line x1="409.40" y1="125.30" x2="507.70" y2="125.30" stroke="#b5b5b5" stroke-width="1.8"/>
<line x1="413.90" y1="64.80" x2="415.90" y2="64.80" stroke="#777" stroke-width="0.5"/>
<text x="413.50" y="66.25" font-size="4.20" fill="#222" text-anchor="end" stroke="#111" stroke-width="0.05">1.0</text>
<line x1="413.90" y1="77.60" x2="415.90" y2="77.60" stroke="#777" stroke-width="0.5"/>
<text x="413.50" y="79.05" font-size="4.20" fill="#222" text-anchor="end" stroke="#111" stroke-width="0.05">0.8</text>
<line x1="413.90" y1="89.10" x2="415.90" y2="89.10" stroke="#777" stroke-width="0.5"/>
<text x="413.50" y="90.55" font-size="4.20" fill="#222" text-anchor="end" stroke="#111" stroke-width="0.05">0.6</text>
<line x1="413.90" y1="101.00" x2="415.90" y2="101.00" stroke="#777" stroke-width="0.5"/>
<text x="413.50" y="102.45" font-size="4.20" fill="#222" text-anchor="end" stroke="#111" stroke-width="0.05">0.4</text>
<line x1="413.90" y1="112.90" x2="415.90" y2="112.90" stroke="#777" stroke-width="0.5"/>
<text x="413.50" y="114.35" font-size="4.20" fill="#222" text-anchor="end" stroke="#111" stroke-width="0.05">0.2</text>
<line x1="413.90" y1="125.30" x2="415.90" y2="125.30" stroke="#777" stroke-width="0.5"/>
<text x="413.50" y="126.75" font-size="4.20" fill="#222" text-anchor="end" stroke="#111" stroke-width="0.05">0</text>
<line x1="415.90" y1="125.30" x2="415.90" y2="126.80" stroke="#777" stroke-width="0.5"/>
<text x="415.90" y="131.60" font-size="4.20" fill="#222" text-anchor="middle" stroke="#111" stroke-width="0.05">0</text>
<line x1="437.70" y1="125.30" x2="437.70" y2="126.80" stroke="#777" stroke-width="0.5"/>
<text x="437.70" y="131.60" font-size="4.20" fill="#222" text-anchor="middle" stroke="#111" stroke-width="0.05">0.3</text>
<line x1="461.50" y1="125.30" x2="461.50" y2="126.80" stroke="#777" stroke-width="0.5"/>
<text x="461.50" y="131.60" font-size="4.20" fill="#222" text-anchor="middle" stroke="#111" stroke-width="0.05">0.6</text>
<line x1="483.90" y1="125.30" x2="483.90" y2="126.80" stroke="#777" stroke-width="0.5"/>
<text x="483.90" y="131.60" font-size="4.20" fill="#222" text-anchor="middle" stroke="#111" stroke-width="0.05">0.9</text>
<line x1="507.70" y1="125.30" x2="507.70" y2="126.80" stroke="#777" stroke-width="0.5"/>
<text x="507.70" y="131.60" font-size="4.20" fill="#222" text-anchor="middle" stroke="#111" stroke-width="0.05">1.2</text>
<line x1="415.90" y1="64.80" x2="491.50" y2="125.30" stroke="#c9a0b4" stroke-width="0.7"/>
<circle cx="416.60" cy="99.30" r="1.90" fill="#ee1122"/>
<text x="415.10" y="97.00" font-size="3.90" fill="#111" text-anchor="middle" font-weight="bold" stroke="#111" stroke-width="0.05">10</text>
<text x="419.50" y="93.70" font-size="3.90" fill="#111" text-anchor="middle" font-weight="bold" stroke="#111" stroke-width="0.05">13</text>
<path d="M419.90,94.50L422.10,96.70M419.90,96.70L422.10,94.50" stroke="#e07a9a" stroke-width="0.6" fill="none"/>
<text x="424.60" y="100.00" font-size="3.90" fill="#111" text-anchor="middle" font-weight="bold" stroke="#111" stroke-width="0.05">14</text>
<path d="M425.00,100.70L427.20,102.90M425.00,102.90L427.20,100.70" stroke="#e07a9a" stroke-width="0.6" fill="none"/>
<text x="437.70" y="106.30" font-size="3.90" fill="#111" text-anchor="middle" font-weight="bold" stroke="#111" stroke-width="0.05">8</text>
<path d="M438.30,107.00L440.50,109.20M438.30,109.20L440.50,107.00" stroke="#e07a9a" stroke-width="0.6" fill="none"/>
<text x="450.70" y="110.70" font-size="3.90" fill="#111" text-anchor="middle" font-weight="bold" stroke="#111" stroke-width="0.05">9</text>
<circle cx="452.30" cy="112.50" r="1.70" fill="#ee1122"/>
<text x="419.30" y="108.70" font-size="3.90" fill="#111" text-anchor="middle" font-weight="bold" stroke="#111" stroke-width="0.05">7</text>
<path d="M419.60,109.40L421.80,111.60M419.60,111.60L421.80,109.40" stroke="#e07a9a" stroke-width="0.6" fill="none"/>
<text x="415.90" y="110.10" font-size="3.90" fill="#111" text-anchor="middle" font-weight="bold" stroke="#111" stroke-width="0.05">6</text>
<path d="M415.80,110.90L418.00,113.10M415.80,113.10L418.00,110.90" stroke="#e07a9a" stroke-width="0.6" fill="none"/>
<text x="428.20" y="115.40" font-size="3.90" fill="#111" text-anchor="middle" font-weight="bold" stroke="#111" stroke-width="0.05">2</text>
<path d="M429.20,117.10L431.40,119.30M429.20,119.30L431.40,117.10" stroke="#e07a9a" stroke-width="0.6" fill="none"/>
<text x="415.70" y="117.80" font-size="3.90" fill="#111" text-anchor="middle" font-weight="bold" stroke="#111" stroke-width="0.05">1</text>
<text x="416.90" y="121.40" font-size="3.90" fill="#111" text-anchor="middle" font-weight="bold" stroke="#111" stroke-width="0.05">15</text>
<circle cx="418.30" cy="123.50" r="2.00" fill="#ee1122"/>
<text x="421.20" y="122.60" font-size="3.90" fill="#111" text-anchor="middle" font-weight="bold" stroke="#111" stroke-width="0.05">5</text>
<path d="M421.50,123.60L423.70,125.80M421.50,125.80L423.70,123.60" stroke="#e07a9a" stroke-width="0.6" fill="none"/>
<text x="466.20" y="115.00" font-size="3.90" fill="#111" text-anchor="middle" font-weight="bold" stroke="#111" stroke-width="0.05">3</text>
<path d="M467.10,116.50L469.30,118.70M467.10,118.70L469.30,116.50" stroke="#e07a9a" stroke-width="0.6" fill="none"/>
<text x="494.20" y="118.00" font-size="3.90" fill="#111" text-anchor="middle" font-weight="bold" stroke="#111" stroke-width="0.05">4</text>
<path d="M495.10,119.10L497.30,121.30M495.10,121.30L497.30,119.10" stroke="#e07a9a" stroke-width="0.6" fill="none"/>
<text x="404.20" y="112.70" font-size="10.00" fill="#222" textLength="32.30" lengthAdjust="spacingAndGlyphs" transform="rotate(-90 404.20 112.70)">KIN-8194</text>
<g stroke="#222" stroke-width="0.22">
<text x="440.90" y="143.95" font-size="10.07" fill="#222" textLength="36.20" lengthAdjust="spacingAndGlyphs">Venetoclax</text>
</g>
<line x1="416.30" y1="168.90" x2="416.30" y2="228.00" stroke="#b5b5b5" stroke-width="1.0"/>
<line x1="409.80" y1="228.00" x2="507.70" y2="228.00" stroke="#b5b5b5" stroke-width="1.8"/>
<line x1="414.30" y1="168.90" x2="416.30" y2="168.90" stroke="#777" stroke-width="0.5"/>
<text x="413.90" y="170.35" font-size="4.20" fill="#222" text-anchor="end" stroke="#111" stroke-width="0.05">1.0</text>
<line x1="414.30" y1="180.40" x2="416.30" y2="180.40" stroke="#777" stroke-width="0.5"/>
<text x="413.90" y="181.85" font-size="4.20" fill="#222" text-anchor="end" stroke="#111" stroke-width="0.05">0.8</text>
<line x1="414.30" y1="192.00" x2="416.30" y2="192.00" stroke="#777" stroke-width="0.5"/>
<text x="413.90" y="193.45" font-size="4.20" fill="#222" text-anchor="end" stroke="#111" stroke-width="0.05">0.6</text>
<line x1="414.30" y1="203.80" x2="416.30" y2="203.80" stroke="#777" stroke-width="0.5"/>
<text x="413.90" y="205.25" font-size="4.20" fill="#222" text-anchor="end" stroke="#111" stroke-width="0.05">0.4</text>
<line x1="414.30" y1="215.40" x2="416.30" y2="215.40" stroke="#777" stroke-width="0.5"/>
<text x="413.90" y="216.85" font-size="4.20" fill="#222" text-anchor="end" stroke="#111" stroke-width="0.05">0.2</text>
<line x1="414.30" y1="228.00" x2="416.30" y2="228.00" stroke="#777" stroke-width="0.5"/>
<text x="413.90" y="229.45" font-size="4.20" fill="#222" text-anchor="end" stroke="#111" stroke-width="0.05">0</text>
<line x1="416.30" y1="228.00" x2="416.30" y2="229.50" stroke="#777" stroke-width="0.5"/>
<text x="416.30" y="234.30" font-size="4.20" fill="#222" text-anchor="middle" stroke="#111" stroke-width="0.05">0</text>
<line x1="434.60" y1="228.00" x2="434.60" y2="229.50" stroke="#777" stroke-width="0.5"/>
<text x="434.60" y="234.30" font-size="4.20" fill="#222" text-anchor="middle" stroke="#111" stroke-width="0.05">0.2</text>
<line x1="452.90" y1="228.00" x2="452.90" y2="229.50" stroke="#777" stroke-width="0.5"/>
<text x="452.90" y="234.30" font-size="4.20" fill="#222" text-anchor="middle" stroke="#111" stroke-width="0.05">0.4</text>
<line x1="471.20" y1="228.00" x2="471.20" y2="229.50" stroke="#777" stroke-width="0.5"/>
<text x="471.20" y="234.30" font-size="4.20" fill="#222" text-anchor="middle" stroke="#111" stroke-width="0.05">0.6</text>
<line x1="489.50" y1="228.00" x2="489.50" y2="229.50" stroke="#777" stroke-width="0.5"/>
<text x="489.50" y="234.30" font-size="4.20" fill="#222" text-anchor="middle" stroke="#111" stroke-width="0.05">0.8</text>
<line x1="507.70" y1="228.00" x2="507.70" y2="229.50" stroke="#777" stroke-width="0.5"/>
<text x="507.70" y="234.30" font-size="4.20" fill="#222" text-anchor="middle" stroke="#111" stroke-width="0.05">1.0</text>
<line x1="416.30" y1="168.90" x2="507.70" y2="228.00" stroke="#f0a8c0" stroke-width="0.7"/>
<path d="M415.00,205.00L417.00,207.00M415.00,207.00L417.00,205.00" stroke="#222" stroke-width="0.7" fill="none"/>
<path d="M416.50,205.60L418.50,207.60M416.50,207.60L418.50,205.60" stroke="#222" stroke-width="0.7" fill="none"/>
<path d="M418.60,205.20L420.60,207.20M418.60,207.20L420.60,205.20" stroke="#222" stroke-width="0.7" fill="none"/>
<text x="418.50" y="207.20" font-size="3.90" fill="#111" text-anchor="middle" font-weight="bold" stroke="#111" stroke-width="0.05">13</text>
<circle cx="416.80" cy="210.00" r="1.70" fill="#ee1122"/>
<path d="M419.40,208.90L421.60,211.10M419.40,211.10L421.60,208.90" stroke="#e07a9a" stroke-width="0.6" fill="none"/>
<text x="430.00" y="211.00" font-size="3.90" fill="#111" text-anchor="middle" font-weight="bold" stroke="#111" stroke-width="0.05">8</text>
<path d="M430.90,212.40L433.10,214.60M430.90,214.60L433.10,212.40" stroke="#e07a9a" stroke-width="0.6" fill="none"/>
<text x="416.50" y="214.90" font-size="3.90" fill="#111" text-anchor="middle" font-weight="bold" stroke="#111" stroke-width="0.05">5</text>
<path d="M416.90,216.40L419.10,218.60M416.90,218.60L419.10,216.40" stroke="#e07a9a" stroke-width="0.6" fill="none"/>
<text x="423.50" y="218.90" font-size="3.90" fill="#111" text-anchor="middle" font-weight="bold" stroke="#111" stroke-width="0.05">9</text>
<circle cx="425.00" cy="220.60" r="1.90" fill="#ee1122"/>
<path d="M415.00,220.50L417.00,222.50M415.00,222.50L417.00,220.50" stroke="#222" stroke-width="0.7" fill="none"/>
<path d="M415.40,222.50L417.40,224.50M415.40,224.50L417.40,222.50" stroke="#222" stroke-width="0.7" fill="none"/>
<text x="420.50" y="224.90" font-size="3.90" fill="#111" text-anchor="middle" font-weight="bold" stroke="#111" stroke-width="0.05">6</text>
<path d="M420.90,225.40L423.10,227.60M420.90,227.60L423.10,225.40" stroke="#e07a9a" stroke-width="0.6" fill="none"/>
<circle cx="416.80" cy="227.30" r="2.00" fill="#ee1122"/>
<path d="M417.40,223.90L419.60,226.10M417.40,226.10L419.60,223.90" stroke="#e07a9a" stroke-width="0.6" fill="none"/>
<text x="404.20" y="216.20" font-size="10.00" fill="#222" textLength="32.30" lengthAdjust="spacingAndGlyphs" transform="rotate(-90 404.20 216.20)">KIN-8194</text>
<g stroke="#222" stroke-width="0.22">
<text x="440.90" y="247.40" font-size="10.14" fill="#222" textLength="36.20" lengthAdjust="spacingAndGlyphs">Venetoclax</text>
</g>
<line x1="417.00" y1="272.30" x2="417.00" y2="332.00" stroke="#b5b5b5" stroke-width="1.0"/>
<line x1="410.50" y1="332.00" x2="508.20" y2="332.00" stroke="#b5b5b5" stroke-width="1.8"/>
<line x1="415.00" y1="272.30" x2="417.00" y2="272.30" stroke="#777" stroke-width="0.5"/>
<text x="414.60" y="273.75" font-size="4.20" fill="#222" text-anchor="end" stroke="#111" stroke-width="0.05">1.0</text>
<line x1="415.00" y1="283.90" x2="417.00" y2="283.90" stroke="#777" stroke-width="0.5"/>
<text x="414.60" y="285.35" font-size="4.20" fill="#222" text-anchor="end" stroke="#111" stroke-width="0.05">0.8</text>
<line x1="415.00" y1="296.30" x2="417.00" y2="296.30" stroke="#777" stroke-width="0.5"/>
<text x="414.60" y="297.75" font-size="4.20" fill="#222" text-anchor="end" stroke="#111" stroke-width="0.05">0.6</text>
<line x1="415.00" y1="307.80" x2="417.00" y2="307.80" stroke="#777" stroke-width="0.5"/>
<text x="414.60" y="309.25" font-size="4.20" fill="#222" text-anchor="end" stroke="#111" stroke-width="0.05">0.4</text>
<line x1="415.00" y1="319.80" x2="417.00" y2="319.80" stroke="#777" stroke-width="0.5"/>
<text x="414.60" y="321.25" font-size="4.20" fill="#222" text-anchor="end" stroke="#111" stroke-width="0.05">0.2</text>
<line x1="415.00" y1="332.00" x2="417.00" y2="332.00" stroke="#777" stroke-width="0.5"/>
<text x="414.60" y="333.45" font-size="4.20" fill="#222" text-anchor="end" stroke="#111" stroke-width="0.05">0</text>
<line x1="417.00" y1="332.00" x2="417.00" y2="333.50" stroke="#777" stroke-width="0.5"/>
<text x="417.00" y="338.30" font-size="4.20" fill="#222" text-anchor="middle" stroke="#111" stroke-width="0.05">0</text>
<line x1="435.20" y1="332.00" x2="435.20" y2="333.50" stroke="#777" stroke-width="0.5"/>
<text x="435.20" y="338.30" font-size="4.20" fill="#222" text-anchor="middle" stroke="#111" stroke-width="0.05">0.2</text>
<line x1="453.50" y1="332.00" x2="453.50" y2="333.50" stroke="#777" stroke-width="0.5"/>
<text x="453.50" y="338.30" font-size="4.20" fill="#222" text-anchor="middle" stroke="#111" stroke-width="0.05">0.4</text>
<line x1="471.70" y1="332.00" x2="471.70" y2="333.50" stroke="#777" stroke-width="0.5"/>
<text x="471.70" y="338.30" font-size="4.20" fill="#222" text-anchor="middle" stroke="#111" stroke-width="0.05">0.6</text>
<line x1="490.00" y1="332.00" x2="490.00" y2="333.50" stroke="#777" stroke-width="0.5"/>
<text x="490.00" y="338.30" font-size="4.20" fill="#222" text-anchor="middle" stroke="#111" stroke-width="0.05">0.8</text>
<line x1="508.20" y1="332.00" x2="508.20" y2="333.50" stroke="#777" stroke-width="0.5"/>
<text x="508.20" y="338.30" font-size="4.20" fill="#222" text-anchor="middle" stroke="#111" stroke-width="0.05">1.0</text>
<line x1="417.00" y1="272.30" x2="508.20" y2="332.00" stroke="#f0a8c0" stroke-width="0.7"/>
<text x="418.50" y="297.90" font-size="3.90" fill="#111" text-anchor="middle" font-weight="bold" stroke="#111" stroke-width="0.05">10</text>
<text x="416.00" y="301.90" font-size="3.90" fill="#111" text-anchor="middle" font-weight="bold" stroke="#111" stroke-width="0.05">11</text>
<text x="422.80" y="301.90" font-size="3.90" fill="#111" text-anchor="middle" font-weight="bold" stroke="#111" stroke-width="0.05">13</text>
<circle cx="418.00" cy="302.50" r="1.80" fill="#ee1122"/>
<path d="M421.60,302.90L423.80,305.10M421.60,305.10L423.80,302.90" stroke="#e07a9a" stroke-width="0.6" fill="none"/>
<text x="430.50" y="303.90" font-size="3.90" fill="#111" text-anchor="middle" font-weight="bold" stroke="#111" stroke-width="0.05">14</text>
<path d="M430.90,304.90L433.10,307.10M430.90,307.10L433.10,304.90" stroke="#e07a9a" stroke-width="0.6" fill="none"/>
<text x="417.00" y="314.40" font-size="3.90" fill="#111" text-anchor="middle" font-weight="bold" stroke="#111" stroke-width="0.05">9</text>
<text x="420.00" y="315.40" font-size="3.90" fill="#111" text-anchor="middle" font-weight="bold" stroke="#111" stroke-width="0.05">3</text>
<path d="M417.90,315.40L420.10,317.60M417.90,317.60L420.10,315.40" stroke="#e07a9a" stroke-width="0.6" fill="none"/>
<path d="M420.50,317.20L422.70,319.40M420.50,319.40L422.70,317.20" stroke="#e07a9a" stroke-width="0.6" fill="none"/>
<text x="428.80" y="317.20" font-size="3.90" fill="#111" text-anchor="middle" font-weight="bold" stroke="#111" stroke-width="0.05">8</text>
<path d="M429.40,317.90L431.60,320.10M429.40,320.10L431.60,317.90" stroke="#e07a9a" stroke-width="0.6" fill="none"/>
<text x="440.50" y="319.90" font-size="3.90" fill="#111" text-anchor="middle" font-weight="bold" stroke="#111" stroke-width="0.05">5</text>
<circle cx="442.50" cy="321.70" r="1.90" fill="#ee1122"/>
<text x="440.00" y="327.40" font-size="3.90" fill="#111" text-anchor="middle" font-weight="bold" stroke="#111" stroke-width="0.05">4</text>
<path d="M440.50,328.10L442.70,330.30M440.50,330.30L442.70,328.10" stroke="#e07a9a" stroke-width="0.6" fill="none"/>
<text x="416.50" y="325.40" font-size="3.90" fill="#111" text-anchor="middle" font-weight="bold" stroke="#111" stroke-width="0.05">12</text>
<text x="421.00" y="327.90" font-size="3.90" fill="#111" text-anchor="middle" font-weight="bold" stroke="#111" stroke-width="0.05">2</text>
<text x="418.80" y="328.40" font-size="3.90" fill="#111" text-anchor="middle" font-weight="bold" stroke="#111" stroke-width="0.05">1</text>
<circle cx="418.60" cy="330.40" r="1.90" fill="#ee1122"/>
<circle cx="420.00" cy="331.40" r="1.80" fill="#ee1122"/>
<path d="M422.10,328.50L424.30,330.70M422.10,330.70L424.30,328.50" stroke="#e07a9a" stroke-width="0.6" fill="none"/>
<text x="404.20" y="319.20" font-size="10.00" fill="#222" textLength="31.60" lengthAdjust="spacingAndGlyphs" transform="rotate(-90 404.20 319.20)">KIN-8194</text>
<g stroke="#222" stroke-width="0.22">
<text x="440.90" y="350.40" font-size="10.14" fill="#222" textLength="36.20" lengthAdjust="spacingAndGlyphs">Venetoclax</text>
</g>
<text x="7.30" y="378.20" font-size="11.00" fill="#111" font-weight="bold" textLength="7.10" lengthAdjust="spacingAndGlyphs">B</text>
<text x="87.40" y="378.20" font-size="8.41" fill="#222" textLength="97.70" lengthAdjust="spacingAndGlyphs">Mean tumor volume ± SEM</text>
<line x1="67.60" y1="385.00" x2="67.60" y2="460.20" stroke="#111" stroke-width="1.4"/>
<line x1="66.20" y1="459.60" x2="207.40" y2="459.60" stroke="#111" stroke-width="1.4"/>
<line x1="64.60" y1="385.40" x2="67.60" y2="385.40" stroke="#111" stroke-width="1.2"/>
<text x="38.80" y="388.30" font-size="8.30" fill="#222" textLength="23.80" lengthAdjust="spacingAndGlyphs">2000.0</text>
<line x1="64.60" y1="404.20" x2="67.60" y2="404.20" stroke="#111" stroke-width="1.2"/>
<text x="38.80" y="407.10" font-size="8.30" fill="#222" textLength="23.80" lengthAdjust="spacingAndGlyphs">1500.0</text>
<line x1="64.60" y1="422.60" x2="67.60" y2="422.60" stroke="#111" stroke-width="1.2"/>
<text x="38.80" y="425.50" font-size="8.30" fill="#222" textLength="23.80" lengthAdjust="spacingAndGlyphs">1000.0</text>
<line x1="64.60" y1="441.10" x2="67.60" y2="441.10" stroke="#111" stroke-width="1.2"/>
<text x="43.40" y="444.00" font-size="8.30" fill="#222" textLength="19.20" lengthAdjust="spacingAndGlyphs">500.0</text>
<line x1="64.60" y1="459.40" x2="67.60" y2="459.40" stroke="#111" stroke-width="1.2"/>
<text x="51.80" y="462.30" font-size="8.30" fill="#222" textLength="10.80" lengthAdjust="spacingAndGlyphs">0.0</text>
<line x1="66.30" y1="459.60" x2="66.30" y2="462.60" stroke="#111" stroke-width="1.2"/>
<text x="60.80" y="471.70" font-size="8.00" fill="#222" textLength="9.00" lengthAdjust="spacingAndGlyphs">−7</text>
<line x1="83.80" y1="459.60" x2="83.80" y2="462.60" stroke="#111" stroke-width="1.2"/>
<text x="81.60" y="471.70" font-size="8.00" fill="#222" textLength="4.40" lengthAdjust="spacingAndGlyphs">0</text>
<line x1="101.30" y1="459.60" x2="101.30" y2="462.60" stroke="#111" stroke-width="1.2"/>
<text x="99.10" y="471.70" font-size="8.00" fill="#222" textLength="4.40" lengthAdjust="spacingAndGlyphs">7</text>
<line x1="118.80" y1="459.60" x2="118.80" y2="462.60" stroke="#111" stroke-width="1.2"/>
<text x="114.50" y="471.70" font-size="8.00" fill="#222" textLength="8.60" lengthAdjust="spacingAndGlyphs">14</text>
<line x1="136.30" y1="459.60" x2="136.30" y2="462.60" stroke="#111" stroke-width="1.2"/>
<text x="132.00" y="471.70" font-size="8.00" fill="#222" textLength="8.60" lengthAdjust="spacingAndGlyphs">21</text>
<line x1="153.80" y1="459.60" x2="153.80" y2="462.60" stroke="#111" stroke-width="1.2"/>
<text x="149.50" y="471.70" font-size="8.00" fill="#222" textLength="8.60" lengthAdjust="spacingAndGlyphs">28</text>
<line x1="171.30" y1="459.60" x2="171.30" y2="462.60" stroke="#111" stroke-width="1.2"/>
<text x="167.00" y="471.70" font-size="8.00" fill="#222" textLength="8.60" lengthAdjust="spacingAndGlyphs">35</text>
<line x1="188.80" y1="459.60" x2="188.80" y2="462.60" stroke="#111" stroke-width="1.2"/>
<text x="184.50" y="471.70" font-size="8.00" fill="#222" textLength="8.60" lengthAdjust="spacingAndGlyphs">42</text>
<line x1="206.30" y1="459.60" x2="206.30" y2="462.60" stroke="#111" stroke-width="1.2"/>
<text x="202.00" y="471.70" font-size="8.00" fill="#222" textLength="8.60" lengthAdjust="spacingAndGlyphs">49</text>
<text x="129.40" y="483.40" font-size="8.41" fill="#222" textLength="35.60" lengthAdjust="spacingAndGlyphs">Study days</text>
<text x="32.5" y="461.8" font-size="10.2" fill="#222" transform="rotate(-90 32.5 461.8)" textLength="76.4" lengthAdjust="spacingAndGlyphs">Tumor volume (mm<tspan dy="-3.4" font-size="6.4">3</tspan><tspan dy="3.4">)</tspan></text>
<path d="M85.5,453.5 L95.5,445.8 L103.0,438.9 L113.0,432.0 L121.0,410.8" stroke="#d8142c" stroke-width="1.7" fill="none" stroke-linejoin="round"/>
<line x1="121.00" y1="399.70" x2="121.00" y2="421.50" stroke="#d8142c" stroke-width="1.1"/>
<line x1="119.10" y1="399.70" x2="122.90" y2="399.70" stroke="#d8142c" stroke-width="1.1"/>
<line x1="119.10" y1="421.50" x2="122.90" y2="421.50" stroke="#d8142c" stroke-width="1.1"/>
<line x1="113.00" y1="427.00" x2="113.00" y2="437.00" stroke="#d8142c" stroke-width="1.1"/>
<line x1="111.10" y1="427.00" x2="114.90" y2="427.00" stroke="#d8142c" stroke-width="1.1"/>
<line x1="111.10" y1="437.00" x2="114.90" y2="437.00" stroke="#d8142c" stroke-width="1.1"/>
<line x1="103.00" y1="435.00" x2="103.00" y2="443.00" stroke="#d8142c" stroke-width="1.1"/>
<line x1="101.10" y1="435.00" x2="104.90" y2="435.00" stroke="#d8142c" stroke-width="1.1"/>
<line x1="101.10" y1="443.00" x2="104.90" y2="443.00" stroke="#d8142c" stroke-width="1.1"/>
<line x1="95.50" y1="444.00" x2="95.50" y2="447.60" stroke="#d8142c" stroke-width="1.1"/>
<line x1="93.60" y1="444.00" x2="97.40" y2="444.00" stroke="#d8142c" stroke-width="1.1"/>
<line x1="93.60" y1="447.60" x2="97.40" y2="447.60" stroke="#d8142c" stroke-width="1.1"/>
<circle cx="85.50" cy="453.50" r="2.40" fill="#d8142c"/>
<circle cx="95.50" cy="445.80" r="2.40" fill="#d8142c"/>
<circle cx="103.00" cy="438.90" r="2.40" fill="#d8142c"/>
<circle cx="113.00" cy="432.00" r="2.40" fill="#d8142c"/>
<circle cx="121.00" cy="410.80" r="2.40" fill="#d8142c"/>
<path d="M85.5,453.5 L95.5,449.6 L103.0,447.4 L113.0,445.4 L121.0,427.0" stroke="#1a4ed4" stroke-width="1.7" fill="none" stroke-linejoin="round"/>
<line x1="121.00" y1="418.50" x2="121.00" y2="435.40" stroke="#1a4ed4" stroke-width="1.1"/>
<line x1="119.10" y1="418.50" x2="122.90" y2="418.50" stroke="#1a4ed4" stroke-width="1.1"/>
<line x1="119.10" y1="435.40" x2="122.90" y2="435.40" stroke="#1a4ed4" stroke-width="1.1"/>
<line x1="113.00" y1="443.20" x2="113.00" y2="447.60" stroke="#1a4ed4" stroke-width="1.1"/>
<line x1="111.10" y1="443.20" x2="114.90" y2="443.20" stroke="#1a4ed4" stroke-width="1.1"/>
<line x1="111.10" y1="447.60" x2="114.90" y2="447.60" stroke="#1a4ed4" stroke-width="1.1"/>
<circle cx="85.50" cy="453.50" r="2.40" fill="#1a4ed4"/>
<circle cx="95.50" cy="449.60" r="2.40" fill="#1a4ed4"/>
<circle cx="103.00" cy="447.40" r="2.40" fill="#1a4ed4"/>
<circle cx="113.00" cy="445.40" r="2.40" fill="#1a4ed4"/>
<circle cx="121.00" cy="427.00" r="2.40" fill="#1a4ed4"/>
<path d="M85.5,453.5 L95.5,450.6 L103.0,449.7 L113.0,449.8 L121.0,448.5 L131.0,440.7 L138.8,437.6 L149.0,427.5 L156.6,415.3" stroke="#3cf03c" stroke-width="1.7" fill="none" stroke-linejoin="round"/>
<line x1="156.60" y1="403.80" x2="156.60" y2="426.60" stroke="#3cf03c" stroke-width="1.1"/>
<line x1="154.70" y1="403.80" x2="158.50" y2="403.80" stroke="#3cf03c" stroke-width="1.1"/>
<line x1="154.70" y1="426.60" x2="158.50" y2="426.60" stroke="#3cf03c" stroke-width="1.1"/>
<line x1="149.00" y1="419.30" x2="149.00" y2="435.80" stroke="#3cf03c" stroke-width="1.1"/>
<line x1="147.10" y1="419.30" x2="150.90" y2="419.30" stroke="#3cf03c" stroke-width="1.1"/>
<line x1="147.10" y1="435.80" x2="150.90" y2="435.80" stroke="#3cf03c" stroke-width="1.1"/>
<line x1="138.80" y1="433.00" x2="138.80" y2="442.70" stroke="#3cf03c" stroke-width="1.1"/>
<line x1="136.90" y1="433.00" x2="140.70" y2="433.00" stroke="#3cf03c" stroke-width="1.1"/>
<line x1="136.90" y1="442.70" x2="140.70" y2="442.70" stroke="#3cf03c" stroke-width="1.1"/>
<line x1="131.00" y1="437.60" x2="131.00" y2="443.60" stroke="#3cf03c" stroke-width="1.1"/>
<line x1="129.10" y1="437.60" x2="132.90" y2="437.60" stroke="#3cf03c" stroke-width="1.1"/>
<line x1="129.10" y1="443.60" x2="132.90" y2="443.60" stroke="#3cf03c" stroke-width="1.1"/>
<circle cx="85.50" cy="453.50" r="2.40" fill="#3cf03c"/>
<circle cx="95.50" cy="450.60" r="2.40" fill="#3cf03c"/>
<circle cx="103.00" cy="449.70" r="2.40" fill="#3cf03c"/>
<circle cx="113.00" cy="449.80" r="2.40" fill="#3cf03c"/>
<circle cx="121.00" cy="448.50" r="2.40" fill="#3cf03c"/>
<circle cx="131.00" cy="440.70" r="2.40" fill="#3cf03c"/>
<circle cx="138.80" cy="437.60" r="2.40" fill="#3cf03c"/>
<circle cx="149.00" cy="427.50" r="2.40" fill="#3cf03c"/>
<circle cx="156.60" cy="415.30" r="2.40" fill="#3cf03c"/>
<path d="M85.5,453.5 L95.5,454.7 L103.0,456.5 L113.0,457.5 L121.0,457.7 L131.0,459.0 L138.8,459.0 L149.0,456.8 L156.6,455.0 L167.0,453.5 L174.0,448.0 L184.0,442.2 L192.2,435.8" stroke="#2b0fa6" stroke-width="1.7" fill="none" stroke-linejoin="round"/>
<line x1="192.20" y1="426.60" x2="192.20" y2="444.00" stroke="#2b0fa6" stroke-width="1.1"/>
<line x1="190.30" y1="426.60" x2="194.10" y2="426.60" stroke="#2b0fa6" stroke-width="1.1"/>
<line x1="190.30" y1="444.00" x2="194.10" y2="444.00" stroke="#2b0fa6" stroke-width="1.1"/>
<line x1="184.00" y1="437.00" x2="184.00" y2="447.10" stroke="#2b0fa6" stroke-width="1.1"/>
<line x1="182.10" y1="437.00" x2="185.90" y2="437.00" stroke="#2b0fa6" stroke-width="1.1"/>
<line x1="182.10" y1="447.10" x2="185.90" y2="447.10" stroke="#2b0fa6" stroke-width="1.1"/>
<line x1="174.00" y1="444.00" x2="174.00" y2="451.30" stroke="#2b0fa6" stroke-width="1.1"/>
<line x1="172.10" y1="444.00" x2="175.90" y2="444.00" stroke="#2b0fa6" stroke-width="1.1"/>
<line x1="172.10" y1="451.30" x2="175.90" y2="451.30" stroke="#2b0fa6" stroke-width="1.1"/>
<line x1="167.00" y1="451.20" x2="167.00" y2="455.80" stroke="#2b0fa6" stroke-width="1.1"/>
<line x1="165.10" y1="451.20" x2="168.90" y2="451.20" stroke="#2b0fa6" stroke-width="1.1"/>
<line x1="165.10" y1="455.80" x2="168.90" y2="455.80" stroke="#2b0fa6" stroke-width="1.1"/>
<circle cx="85.50" cy="453.50" r="2.40" fill="#2b0fa6"/>
<circle cx="95.50" cy="454.70" r="2.40" fill="#2b0fa6"/>
<circle cx="103.00" cy="456.50" r="2.40" fill="#2b0fa6"/>
<circle cx="113.00" cy="457.50" r="2.40" fill="#2b0fa6"/>
<circle cx="121.00" cy="457.70" r="2.40" fill="#2b0fa6"/>
<circle cx="131.00" cy="459.00" r="2.40" fill="#2b0fa6"/>
<circle cx="138.80" cy="459.00" r="2.40" fill="#2b0fa6"/>
<circle cx="149.00" cy="456.80" r="2.40" fill="#2b0fa6"/>
<circle cx="156.60" cy="455.00" r="2.40" fill="#2b0fa6"/>
<circle cx="167.00" cy="453.50" r="2.40" fill="#2b0fa6"/>
<circle cx="174.00" cy="448.00" r="2.40" fill="#2b0fa6"/>
<circle cx="184.00" cy="442.20" r="2.40" fill="#2b0fa6"/>
<circle cx="192.20" cy="435.80" r="2.40" fill="#2b0fa6"/>
<line x1="209.20" y1="386.10" x2="222.70" y2="386.10" stroke="#d8142c" stroke-width="1.6"/>
<circle cx="216.20" cy="386.10" r="2.00" fill="#d8142c"/>
<line x1="209.20" y1="402.40" x2="222.70" y2="402.40" stroke="#1a4ed4" stroke-width="1.6"/>
<circle cx="216.20" cy="402.40" r="2.00" fill="#1a4ed4"/>
<line x1="209.20" y1="419.30" x2="222.70" y2="419.30" stroke="#3cf03c" stroke-width="1.6"/>
<circle cx="216.20" cy="419.30" r="2.00" fill="#3cf03c"/>
<line x1="209.20" y1="435.70" x2="222.70" y2="435.70" stroke="#2b0fa6" stroke-width="1.6"/>
<circle cx="216.20" cy="435.70" r="2.00" fill="#2b0fa6"/>
<text x="225.60" y="388.60" font-size="7.30" fill="#222" textLength="24.00" lengthAdjust="spacingAndGlyphs">Vehicle</text>
<text x="225.60" y="404.90" font-size="7.30" fill="#222" textLength="70.70" lengthAdjust="spacingAndGlyphs">Venetoclax, 50mg/kg</text>
<text x="225.60" y="422.20" font-size="7.30" fill="#222" textLength="65.00" lengthAdjust="spacingAndGlyphs">KIN-8194, 30mg/kg</text>
<text x="225.60" y="438.40" font-size="7.30" fill="#222" textLength="72.10" lengthAdjust="spacingAndGlyphs">KIN-8194, 30mg/kg +</text>
<text x="225.60" y="447.20" font-size="7.30" fill="#222" textLength="70.70" lengthAdjust="spacingAndGlyphs">Venetoclax, 50mg/kg</text>
<text x="312.70" y="378.20" font-size="11.00" fill="#111" font-weight="bold" textLength="7.50" lengthAdjust="spacingAndGlyphs">C</text>
<text x="416.20" y="376.90" font-size="7.83" fill="#222" textLength="25.00" lengthAdjust="spacingAndGlyphs">Day 22</text>
<line x1="369.40" y1="389.00" x2="369.40" y2="499.90" stroke="#111" stroke-width="1.4"/>
<line x1="368.70" y1="499.20" x2="485.20" y2="499.20" stroke="#111" stroke-width="1.4"/>
<line x1="366.00" y1="389.60" x2="369.40" y2="389.60" stroke="#111" stroke-width="1.2"/>
<text x="345.20" y="392.30" font-size="7.80" fill="#222" textLength="17.60" lengthAdjust="spacingAndGlyphs">2500</text>
<line x1="366.00" y1="410.60" x2="369.40" y2="410.60" stroke="#111" stroke-width="1.2"/>
<text x="345.20" y="413.30" font-size="7.80" fill="#222" textLength="17.60" lengthAdjust="spacingAndGlyphs">2000</text>
<line x1="366.00" y1="431.40" x2="369.40" y2="431.40" stroke="#111" stroke-width="1.2"/>
<text x="345.20" y="434.10" font-size="7.80" fill="#222" textLength="17.60" lengthAdjust="spacingAndGlyphs">1500</text>
<line x1="366.00" y1="452.50" x2="369.40" y2="452.50" stroke="#111" stroke-width="1.2"/>
<text x="345.20" y="455.20" font-size="7.80" fill="#222" textLength="17.60" lengthAdjust="spacingAndGlyphs">1000</text>
<line x1="366.00" y1="473.60" x2="369.40" y2="473.60" stroke="#111" stroke-width="1.2"/>
<text x="350.00" y="476.30" font-size="7.80" fill="#222" textLength="12.80" lengthAdjust="spacingAndGlyphs">500</text>
<line x1="366.00" y1="494.30" x2="369.40" y2="494.30" stroke="#111" stroke-width="1.2"/>
<text x="359.00" y="497.00" font-size="7.80" fill="#222" textLength="3.80" lengthAdjust="spacingAndGlyphs">0</text>
<line x1="386.70" y1="499.20" x2="386.70" y2="502.30" stroke="#111" stroke-width="1.2"/>
<line x1="413.60" y1="499.20" x2="413.60" y2="502.30" stroke="#111" stroke-width="1.2"/>
<line x1="440.30" y1="499.20" x2="440.30" y2="502.30" stroke="#111" stroke-width="1.2"/>
<line x1="467.50" y1="499.20" x2="467.50" y2="502.30" stroke="#111" stroke-width="1.2"/>
<text x="339.6" y="475.6" font-size="10.3" fill="#222" transform="rotate(-90 339.6 475.6)" textLength="70.9" lengthAdjust="spacingAndGlyphs">Tumor volume (mm<tspan dy="-3.4" font-size="6.4">3</tspan><tspan dy="3.4">)</tspan></text>
<path d="M375.70,401.20 L397.50,401.20 L398.30,404.00 L398.40,412.00 L397.90,422.00 L397.20,432.00 L396.40,442.00 L395.50,452.00 L394.40,462.00 L393.40,471.80 L379.80,471.80 L378.80,462.00 L377.70,452.00 L376.80,442.00 L376.00,432.00 L375.30,422.00 L374.80,412.00 L374.90,404.00 L375.70,401.20 Z" stroke="#1e8032" stroke-width="1.3" fill="#98dfad" stroke-linejoin="round"/>
<line x1="386.60" y1="401.20" x2="386.60" y2="471.80" stroke="#333" stroke-width="0.6"/>
<rect x="385.30" y="405.30" width="2.60" height="49.70" fill="#000"/>
<path d="M408.30,393.30 L419.30,393.30 L421.00,398.00 L423.00,405.00 L424.70,415.00 L425.50,425.00 L425.70,433.00 L425.20,443.00 L424.20,453.00 L423.20,463.00 L422.40,470.00 L421.70,476.30 L405.90,476.30 L405.20,470.00 L404.40,463.00 L403.40,453.00 L402.40,443.00 L401.90,433.00 L402.10,425.00 L402.90,415.00 L404.60,405.00 L406.60,398.00 L408.30,393.30 Z" stroke="#f27c12" stroke-width="1.3" fill="#ffcd9c" stroke-linejoin="round"/>
<line x1="413.80" y1="393.30" x2="413.80" y2="476.30" stroke="#333" stroke-width="0.6"/>
<rect x="412.50" y="407.60" width="2.60" height="50.30" fill="#000"/>
<path d="M435.20,447.30 L445.60,447.30 L447.80,452.00 L449.80,458.00 L451.30,465.00 L451.80,471.00 L451.40,477.00 L450.60,483.00 L449.60,490.40 L431.20,490.40 L430.20,483.00 L429.40,477.00 L429.00,471.00 L429.50,465.00 L431.00,458.00 L433.00,452.00 L435.20,447.30 Z" stroke="#1a4ec6" stroke-width="1.3" fill="#a4d2e3" stroke-linejoin="round"/>
<line x1="440.40" y1="447.30" x2="440.40" y2="490.40" stroke="#333" stroke-width="0.6"/>
<rect x="439.10" y="457.30" width="2.60" height="27.10" fill="#000"/>
<path d="M456.2,493.2 Q462,491.4 466.5,490.6 L467.7,489.4 L469,490.6 Q473.5,491.4 479.2,493.2 Q473,495.2 467.7,495.3 Q462,495.2 456.2,493.2 Z" stroke="#d8102a" stroke-width="1.2" fill="#f084c4"/>
<circle cx="467.70" cy="493.30" r="0.90" fill="#222"/>
<line x1="386.70" y1="379.90" x2="470.60" y2="379.90" stroke="#1a1a1a" stroke-width="1.2"/>
<line x1="386.70" y1="379.30" x2="386.70" y2="393.60" stroke="#1a1a1a" stroke-width="1.2"/>
<line x1="437.00" y1="379.30" x2="437.00" y2="388.60" stroke="#1a1a1a" stroke-width="1.2"/>
<line x1="437.00" y1="400.20" x2="437.00" y2="439.80" stroke="#1a1a1a" stroke-width="1.2"/>
<line x1="470.60" y1="379.30" x2="470.60" y2="400.30" stroke="#1a1a1a" stroke-width="1.2"/>
<line x1="470.60" y1="414.20" x2="470.60" y2="423.40" stroke="#1a1a1a" stroke-width="1.2"/>
<line x1="470.60" y1="433.50" x2="470.60" y2="481.50" stroke="#1a1a1a" stroke-width="1.2"/>
<line x1="443.50" y1="434.40" x2="463.80" y2="434.40" stroke="#1a1a1a" stroke-width="1.2"/>
<line x1="443.50" y1="433.80" x2="443.50" y2="438.90" stroke="#1a1a1a" stroke-width="1.2"/>
<line x1="463.80" y1="433.80" x2="463.80" y2="481.50" stroke="#1a1a1a" stroke-width="1.2"/>
<line x1="386.70" y1="477.50" x2="386.70" y2="485.00" stroke="#1a1a1a" stroke-width="1.2"/>
<line x1="413.80" y1="477.50" x2="413.80" y2="485.00" stroke="#1a1a1a" stroke-width="1.2"/>
<line x1="386.10" y1="484.40" x2="414.40" y2="484.40" stroke="#1a1a1a" stroke-width="1.2"/>
<text x="422.70" y="397.70" font-size="8.26" fill="#222"><tspan font-style="italic" textLength="5.33" lengthAdjust="spacingAndGlyphs">P</tspan><tspan x="428.33" textLength="32.47" lengthAdjust="spacingAndGlyphs"> = 0.0312</tspan></text>
<text x="449.90" y="409.90" font-size="8.41" fill="#222"><tspan font-style="italic" textLength="5.35" lengthAdjust="spacingAndGlyphs">P</tspan><tspan x="455.55" textLength="32.55" lengthAdjust="spacingAndGlyphs"> = 0.0056</tspan></text>
<text x="438.80" y="431.70" font-size="7.83" fill="#222"><tspan font-style="italic" textLength="5.25" lengthAdjust="spacingAndGlyphs">P</tspan><tspan x="444.35" textLength="31.95" lengthAdjust="spacingAndGlyphs"> = 0.0077</tspan></text>
<text x="380.80" y="493.90" font-size="7.68" fill="#222"><tspan font-style="italic" textLength="5.35" lengthAdjust="spacingAndGlyphs">P</tspan><tspan x="386.45" textLength="32.55" lengthAdjust="spacingAndGlyphs"> = 0.7209</tspan></text>
<text x="388.50" y="509.30" font-size="8.8" fill="#ee2a30" stroke="#ee2a30" stroke-width="0.35" text-anchor="end" textLength="21.80" lengthAdjust="spacingAndGlyphs" transform="rotate(-50 388.50 509.30)">Vehicle</text>
<text x="415.40" y="510.00" font-size="8.8" fill="#3a4cee" stroke="#3a4cee" stroke-width="0.35" text-anchor="end" textLength="34.40" lengthAdjust="spacingAndGlyphs" transform="rotate(-50 415.40 510.00)">Venetoclax</text>
<text x="444.50" y="509.30" font-size="8.8" fill="#30b430" stroke="#30b430" stroke-width="0.35" text-anchor="end" textLength="31.60" lengthAdjust="spacingAndGlyphs" transform="rotate(-50 444.50 509.30)">KIN-8194</text>
<text x="470.90" y="509.40" font-size="8.8" fill="#7e30e0" stroke="#7e30e0" stroke-width="0.35" text-anchor="end" textLength="38.20" lengthAdjust="spacingAndGlyphs" transform="rotate(-50 470.90 509.40)">KIN-8194 +</text>
<text x="476.80" y="515.40" font-size="8.8" fill="#7e30e0" stroke="#7e30e0" stroke-width="0.35" text-anchor="end" textLength="35.60" lengthAdjust="spacingAndGlyphs" transform="rotate(-50 476.80 515.40)">Venetoclax</text>
<text x="7.30" y="511.60" font-size="11.00" fill="#111" font-weight="bold" textLength="7.70" lengthAdjust="spacingAndGlyphs">D</text>
<text x="96.10" y="517.10" font-size="8.26" fill="#222" textLength="70.90" lengthAdjust="spacingAndGlyphs">Survival proportions</text>
<line x1="60.00" y1="523.70" x2="60.00" y2="597.70" stroke="#111" stroke-width="1.4"/>
<line x1="59.30" y1="597.00" x2="202.90" y2="597.00" stroke="#111" stroke-width="1.4"/>
<line x1="56.50" y1="530.00" x2="60.00" y2="530.00" stroke="#111" stroke-width="1.2"/>
<text x="42.10" y="532.80" font-size="7.90" fill="#222" textLength="11.70" lengthAdjust="spacingAndGlyphs">100</text>
<line x1="56.50" y1="547.00" x2="60.00" y2="547.00" stroke="#111" stroke-width="1.2"/>
<text x="46.00" y="549.80" font-size="7.90" fill="#222" textLength="7.80" lengthAdjust="spacingAndGlyphs">75</text>
<line x1="56.50" y1="563.70" x2="60.00" y2="563.70" stroke="#111" stroke-width="1.2"/>
<text x="46.00" y="566.50" font-size="7.90" fill="#222" textLength="7.80" lengthAdjust="spacingAndGlyphs">50</text>
<line x1="56.50" y1="580.50" x2="60.00" y2="580.50" stroke="#111" stroke-width="1.2"/>
<text x="46.00" y="583.30" font-size="7.90" fill="#222" textLength="7.80" lengthAdjust="spacingAndGlyphs">25</text>
<line x1="56.50" y1="597.00" x2="60.00" y2="597.00" stroke="#111" stroke-width="1.2"/>
<text x="49.90" y="599.80" font-size="7.90" fill="#222" textLength="3.90" lengthAdjust="spacingAndGlyphs">0</text>
<line x1="59.60" y1="597.00" x2="59.60" y2="600.30" stroke="#111" stroke-width="1.1"/>
<text x="57.65" y="609.60" font-size="7.90" fill="#222" textLength="3.90" lengthAdjust="spacingAndGlyphs">0</text>
<line x1="72.60" y1="597.00" x2="72.60" y2="600.30" stroke="#111" stroke-width="1.1"/>
<text x="70.65" y="609.60" font-size="7.90" fill="#222" textLength="3.90" lengthAdjust="spacingAndGlyphs">7</text>
<line x1="85.60" y1="597.00" x2="85.60" y2="600.30" stroke="#111" stroke-width="1.1"/>
<text x="81.70" y="609.60" font-size="7.90" fill="#222" textLength="7.80" lengthAdjust="spacingAndGlyphs">14</text>
<line x1="98.60" y1="597.00" x2="98.60" y2="600.30" stroke="#111" stroke-width="1.1"/>
<text x="94.70" y="609.60" font-size="7.90" fill="#222" textLength="7.80" lengthAdjust="spacingAndGlyphs">21</text>
<line x1="111.60" y1="597.00" x2="111.60" y2="600.30" stroke="#111" stroke-width="1.1"/>
<text x="107.70" y="609.60" font-size="7.90" fill="#222" textLength="7.80" lengthAdjust="spacingAndGlyphs">28</text>
<line x1="124.60" y1="597.00" x2="124.60" y2="600.30" stroke="#111" stroke-width="1.1"/>
<text x="120.70" y="609.60" font-size="7.90" fill="#222" textLength="7.80" lengthAdjust="spacingAndGlyphs">35</text>
<line x1="137.60" y1="597.00" x2="137.60" y2="600.30" stroke="#111" stroke-width="1.1"/>
<text x="133.70" y="609.60" font-size="7.90" fill="#222" textLength="7.80" lengthAdjust="spacingAndGlyphs">42</text>
<line x1="150.60" y1="597.00" x2="150.60" y2="600.30" stroke="#111" stroke-width="1.1"/>
<text x="146.70" y="609.60" font-size="7.90" fill="#222" textLength="7.80" lengthAdjust="spacingAndGlyphs">49</text>
<line x1="163.60" y1="597.00" x2="163.60" y2="600.30" stroke="#111" stroke-width="1.1"/>
<text x="159.70" y="609.60" font-size="7.90" fill="#222" textLength="7.80" lengthAdjust="spacingAndGlyphs">56</text>
<line x1="176.60" y1="597.00" x2="176.60" y2="600.30" stroke="#111" stroke-width="1.1"/>
<text x="172.70" y="609.60" font-size="7.90" fill="#222" textLength="7.80" lengthAdjust="spacingAndGlyphs">63</text>
<line x1="189.60" y1="597.00" x2="189.60" y2="600.30" stroke="#111" stroke-width="1.1"/>
<text x="185.70" y="609.60" font-size="7.90" fill="#222" textLength="7.80" lengthAdjust="spacingAndGlyphs">70</text>
<line x1="202.60" y1="597.00" x2="202.60" y2="600.30" stroke="#111" stroke-width="1.1"/>
<text x="198.70" y="609.60" font-size="7.90" fill="#222" textLength="7.80" lengthAdjust="spacingAndGlyphs">77</text>
<text x="109.80" y="622.00" font-size="8.41" fill="#222" textLength="43.20" lengthAdjust="spacingAndGlyphs">Days elapsed</text>
<text x="36.10" y="585.70" font-size="10.40" fill="#222" textLength="51.30" lengthAdjust="spacingAndGlyphs" transform="rotate(-90 36.10 585.70)">Percent survival</text>
<path d="M60,530 H139.7 V539 H160.3 V547.1 H169.4 V555.3 H171.6 V563.7 H182.2 V572.2 H186.3 V588.8 H191.3 V597" stroke="#2b0fa6" stroke-width="1.6" fill="none"/>
<path d="M60,530 H88.1 V539 H95.1 V546.7 H100.5 V555.3 H108.3 V563.6 H113.6 V580.3 H134.4 V597" stroke="#1a4ed4" stroke-width="1.6" fill="none"/>
<path d="M60,530 H113.8 V546.7 H121.3 V555.3 H126.9 V572.3 H160.3 V580.3 H166.1 V588.8 H186.3" stroke="#3cf03c" stroke-width="1.6" fill="none"/>
<path d="M60,530 H88.1 V555.3 H95.1 V563.6 H106.1 V572.5 H108.3 V580.6 H126.7 V588.8 H186.5 V597" stroke="#d8142c" stroke-width="1.6" fill="none"/>
<line x1="200.50" y1="505.80" x2="209.00" y2="505.80" stroke="#d8142c" stroke-width="1.6"/>
<line x1="204.80" y1="505.80" x2="204.80" y2="504.20" stroke="#d8142c" stroke-width="0.9"/>
<line x1="200.50" y1="517.80" x2="209.00" y2="517.80" stroke="#1a4ed4" stroke-width="1.6"/>
<line x1="204.80" y1="517.80" x2="204.80" y2="516.20" stroke="#1a4ed4" stroke-width="0.9"/>
<line x1="200.50" y1="540.10" x2="209.00" y2="540.10" stroke="#3cf03c" stroke-width="1.6"/>
<line x1="204.80" y1="540.10" x2="204.80" y2="538.50" stroke="#3cf03c" stroke-width="0.9"/>
<line x1="200.50" y1="561.80" x2="209.00" y2="561.80" stroke="#2b0fa6" stroke-width="1.6"/>
<line x1="204.80" y1="561.80" x2="204.80" y2="560.20" stroke="#2b0fa6" stroke-width="0.9"/>
<text x="212.40" y="508.40" font-size="7.50" fill="#222" textLength="23.70" lengthAdjust="spacingAndGlyphs">Vehicle</text>
<text x="212.40" y="520.70" font-size="7.50" fill="#222" textLength="36.30" lengthAdjust="spacingAndGlyphs">Venetoclax</text>
<text x="212.40" y="529.70" font-size="7.50" fill="#222" textLength="29.40" lengthAdjust="spacingAndGlyphs">50mg/kg</text>
<text x="212.40" y="542.40" font-size="7.50" fill="#222" textLength="30.60" lengthAdjust="spacingAndGlyphs">KIN-8194</text>
<text x="212.40" y="551.40" font-size="7.50" fill="#222" textLength="29.40" lengthAdjust="spacingAndGlyphs">30mg/kg</text>
<text x="212.40" y="564.30" font-size="7.50" fill="#222" textLength="30.60" lengthAdjust="spacingAndGlyphs">KIN-8194</text>
<text x="212.40" y="573.30" font-size="7.50" fill="#222" textLength="36.60" lengthAdjust="spacingAndGlyphs">30mg/kg +</text>
<text x="212.40" y="582.30" font-size="7.50" fill="#222" textLength="36.30" lengthAdjust="spacingAndGlyphs">Venetoclax</text>
<text x="212.40" y="591.30" font-size="7.50" fill="#222" textLength="29.40" lengthAdjust="spacingAndGlyphs">50mg/kg</text>
<rect x="261.50" y="555.00" width="251.50" height="45.80" fill="none" stroke="#111" stroke-width="1.3"/>
<line x1="261.50" y1="583.80" x2="513.00" y2="583.80" stroke="#111" stroke-width="1.3"/>
<line x1="300.60" y1="555.00" x2="300.60" y2="600.80" stroke="#111" stroke-width="1.3"/>
<line x1="335.60" y1="555.00" x2="335.60" y2="600.80" stroke="#111" stroke-width="1.3"/>
<line x1="383.90" y1="555.00" x2="383.90" y2="600.80" stroke="#111" stroke-width="1.3"/>
<line x1="425.20" y1="555.00" x2="425.20" y2="600.80" stroke="#111" stroke-width="1.3"/>
<text x="268.30" y="566.90" font-size="7.97" fill="#222" textLength="25.70" lengthAdjust="spacingAndGlyphs">Median</text>
<text x="268.30" y="576.00" font-size="8.00" fill="#222" textLength="25.70" lengthAdjust="spacingAndGlyphs">survival</text>
<text x="270.60" y="594.60" font-size="8.00" fill="#222" textLength="21.30" lengthAdjust="spacingAndGlyphs">(days)</text>
<text x="305.30" y="571.60" font-size="8.41" fill="#e0282e" textLength="25.60" lengthAdjust="spacingAndGlyphs">Vehicle</text>
<text x="314.00" y="594.90" font-size="8.26" fill="#e0282e" textLength="8.40" lengthAdjust="spacingAndGlyphs">22</text>
<text x="339.90" y="567.00" font-size="8.12" fill="#2a2ae6" textLength="38.90" lengthAdjust="spacingAndGlyphs">Venetoclax</text>
<text x="341.00" y="575.80" font-size="8.00" fill="#2a2ae6" textLength="37.30" lengthAdjust="spacingAndGlyphs">(50mg/kg)</text>
<text x="351.90" y="594.80" font-size="7.97" fill="#2a2ae6" textLength="15.30" lengthAdjust="spacingAndGlyphs">27.5</text>
<text x="387.90" y="567.00" font-size="8.12" fill="#3cbe3c" textLength="32.80" lengthAdjust="spacingAndGlyphs">KIN-8194</text>
<text x="385.70" y="575.80" font-size="8.00" fill="#3cbe3c" textLength="36.50" lengthAdjust="spacingAndGlyphs">(30mg/kg)</text>
<text x="399.90" y="594.80" font-size="7.97" fill="#3cbe3c" textLength="8.80" lengthAdjust="spacingAndGlyphs">36</text>
<text x="429.70" y="566.80" font-size="8.00" fill="#7a2ade" textLength="78.90" lengthAdjust="spacingAndGlyphs">KIN-8194 (30mg/kg) +</text>
<text x="429.70" y="576.00" font-size="8.00" fill="#7a2ade" textLength="77.80" lengthAdjust="spacingAndGlyphs">Venetoclax (50mg/kg)</text>
<text x="465.60" y="594.60" font-size="7.83" fill="#7a2ade" textLength="7.60" lengthAdjust="spacingAndGlyphs">63</text>
<text x="261.7" y="614.0" font-size="7.8" fill="#222" textLength="138" lengthAdjust="spacingAndGlyphs">Log-rank (Mantel-Cox) test, <tspan font-style="italic">P</tspan> = 0.0020</text>
</svg>
</body></html>
